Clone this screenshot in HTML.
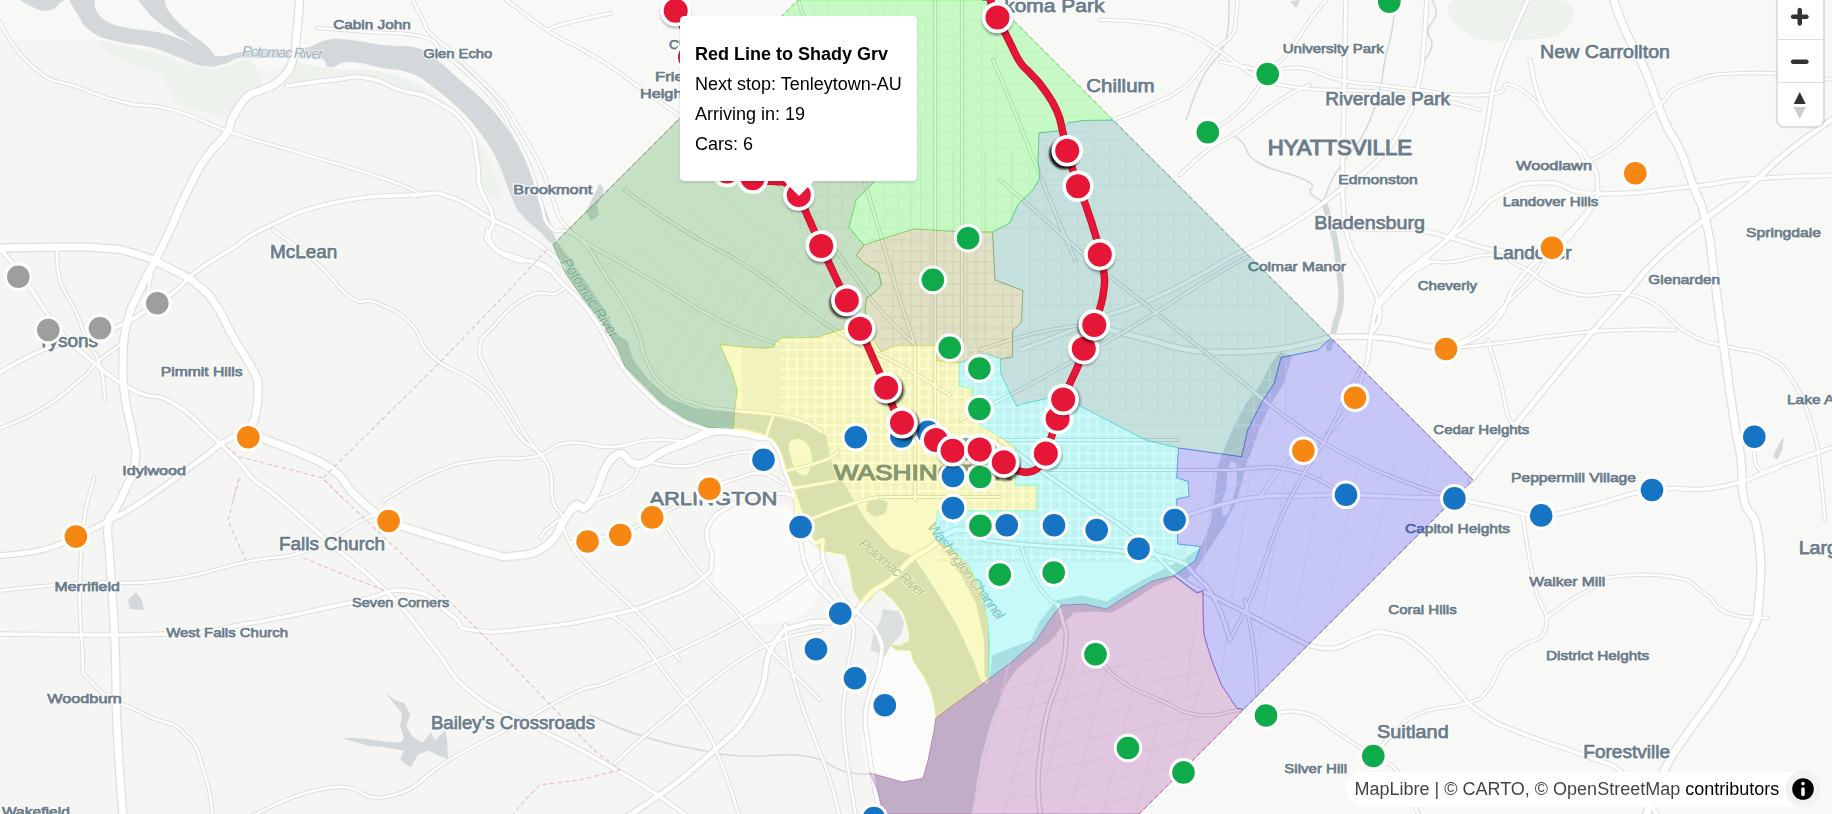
<!DOCTYPE html>
<html><head><meta charset="utf-8"><title>DC Metro Map</title>
<style>
html,body{margin:0;padding:0;background:#f8f8f6;}
body{width:1832px;height:814px;overflow:hidden;position:relative;font-family:"Liberation Sans",sans-serif;}
#map{position:absolute;left:0;top:0;width:1832px;height:814px;display:block}
.lh{font-family:"Liberation Sans",sans-serif;fill:#fff;stroke:#fff;stroke-width:3px;stroke-linejoin:round;stroke-opacity:.9}
.lf{font-family:"Liberation Sans",sans-serif;fill:#6b7d8b;stroke:#6b7d8b;stroke-width:.75px}
.popup{position:absolute;left:680px;top:16px;width:237px;height:165px;background:#fff;border-radius:4.5px;box-shadow:0 1.5px 3px rgba(0,0,0,.1);box-sizing:border-box;font-size:18px;line-height:30px;color:#000}
.popup div{position:absolute;left:15px;white-space:nowrap;opacity:.999}
.tip{position:absolute;left:784px;top:181px;width:0;height:0;border-left:15px solid transparent;border-right:15px solid transparent;border-top:15px solid #fff}
.ctrl{position:absolute;left:1778px;top:-5px;width:44.5px;height:131px;background:#fff;border-radius:6px;box-shadow:0 0 0 2.2px rgba(0,0,0,.1)}
.ctrl .b{position:absolute;left:0;width:44.5px;height:43.5px;box-sizing:border-box}
.ctrl .b+.b{border-top:1.5px solid #ddd}
.ctrl svg{position:absolute;left:0px;top:0;width:43.5px;height:43.5px}
.attr{position:absolute;left:1346px;top:771.5px;width:475px;height:35px;background:#fff;border-radius:18px;font-size:18px;line-height:36px;color:#000;white-space:nowrap}
.attr span.t{position:absolute;left:8.5px;top:-0.8px;color:rgba(0,0,0,.75);opacity:.999}
.attr span.t b{font-weight:normal;color:#000}
.attr .ib{position:absolute;right:0;top:-0.5px;width:36px;height:36px;border-radius:18px;background:rgba(0,0,0,.05)}
.attr .ib svg{width:36px;height:36px;display:block}
</style></head><body>

<svg id="map" width="1832" height="814" viewBox="0 0 1832 814">
<defs><clipPath id="dc"><path d="M760.0,38.0 L553.0,245.0 L565.8,273.8 L583.8,299.6 L604.5,325.4 L617.4,348.6 L625.0,366.7 L643.0,384.8 L661.2,402.8 L684.4,418.3 L707.7,427.3 L733.5,428.5 L734.7,410.6 L737.3,390.0 L731.0,369.3 L720.0,344.5 L746.0,347.2 L762.9,348.2 L774.0,347.3 L775.7,342.2 L782.5,337.8 L817.9,337.3 L825.8,334.4 L841.5,329.5 L845.4,329.5 L873.0,338.0 L868.9,325.6 L865.1,310.6 L866.4,298.0 L873.9,293.0 L881.5,285.4 L879.0,272.9 L864.0,263.0 L856.3,255.3 L864.0,245.0 L858.0,238.0 L849.0,227.0 L856.0,200.0 L876.0,180.0 L850.0,120.0 L800.0,62.0Z M798.0,0.0 L993.0,0.0 L1113.0,120.0 L1083.0,120.5 L1068.0,123.0 L1060.4,130.5 L1039.0,133.0 L1038.0,160.7 L1040.0,178.0 L1032.8,190.0 L1017.7,205.0 L1010.0,222.7 L992.6,232.0 L957.0,231.5 L914.0,229.0 L885.0,238.0 L864.0,245.0 L858.0,238.0 L849.0,227.0 L856.0,200.0 L876.0,180.0 L850.0,120.0 L800.0,62.0 L760.0,38.0Z M1113.0,120.0 L1331.0,338.0 L1317.7,350.0 L1281.0,357.5 L1274.3,383.3 L1261.0,403.3 L1247.7,430.0 L1241.5,456.7 L1178.5,448.0 L1146.0,440.3 L1080.8,406.4 L1062.0,393.0 L1050.7,397.7 L1022.0,404.0 L1016.8,406.4 L1012.4,398.3 L1000.5,372.6 L1000.6,359.0 L1012.4,357.0 L1012.7,330.6 L1021.5,322.0 L1022.8,290.5 L995.0,280.0 L992.6,232.0 L1010.0,222.7 L1017.7,205.0 L1032.8,190.0 L1040.0,178.0 L1038.0,160.7 L1039.0,133.0 L1060.4,130.5 L1068.0,123.0 L1083.0,120.5Z M864.0,245.0 L885.0,238.0 L914.0,229.0 L957.0,231.5 L992.6,232.0 L995.0,280.0 L1022.8,290.5 L1021.5,322.0 L1012.7,330.6 L1012.4,357.0 L1000.6,359.0 L985.0,353.0 L959.4,362.9 L936.8,361.0 L936.8,345.6 L894.5,345.6 L881.0,352.0 L873.0,338.0 L868.9,325.6 L865.1,310.6 L866.4,298.0 L873.9,293.0 L881.5,285.4 L879.0,272.9 L864.0,263.0 L856.3,255.3Z M873.0,338.0 L881.0,352.0 L894.5,345.6 L936.8,345.6 L936.8,361.0 L959.4,362.9 L959.4,386.5 L972.2,388.4 L972.2,410.0 L981.0,425.8 L1014.4,445.4 L1015.6,447.9 L1015.6,485.5 L1036.9,485.5 L1036.9,510.6 L937.7,510.6 L934.0,535.7 L935.7,540.0 L950.8,547.5 L968.4,565.0 L981.0,590.0 L988.5,622.9 L988.5,679.3 L935.7,718.3 L934.5,705.7 L930.7,690.6 L923.2,675.6 L913.0,660.5 L910.6,650.5 L896.0,650.0 L890.5,645.4 L900.6,645.4 L909.4,640.4 L908.0,628.0 L903.0,612.8 L893.0,600.0 L879.0,587.7 L875.5,590.0 L870.5,600.0 L860.4,601.5 L853.0,590.0 L850.4,572.6 L845.4,555.0 L820.0,550.0 L814.0,540.0 L811.0,533.2 L796.0,510.6 L793.6,490.6 L786.0,468.0 L778.5,445.4 L766.0,435.3 L733.5,428.5 L734.7,410.6 L737.3,390.0 L731.0,369.3 L720.0,344.5 L746.0,347.2 L762.9,348.2 L774.0,347.3 L775.7,342.2 L782.5,337.8 L817.9,337.3 L825.8,334.4 L841.5,329.5 L845.4,329.5Z M959.4,362.9 L985.0,353.0 L1000.6,359.0 L1000.5,372.6 L1012.4,398.3 L1016.8,406.4 L1022.0,404.0 L1050.7,397.7 L1062.0,393.0 L1080.8,406.4 L1146.0,440.3 L1178.5,448.0 L1176.6,477.7 L1187.9,481.4 L1189.0,496.5 L1176.6,499.0 L1177.8,544.0 L1200.4,546.7 L1195.4,560.5 L1174.0,575.6 L1151.7,581.4 L1124.0,597.7 L1106.5,609.0 L1083.9,604.0 L1061.3,605.3 L1051.2,617.8 L1036.2,640.4 L1013.6,660.5 L988.5,679.3 L988.5,622.9 L981.0,590.0 L968.4,565.0 L950.8,547.5 L935.7,540.0 L934.0,535.7 L937.7,510.6 L1036.9,510.6 L1036.9,485.5 L1015.6,485.5 L1015.6,447.9 L1014.4,445.4 L981.0,425.8 L972.2,410.0 L972.2,388.4 L959.4,386.5Z M1331.0,338.0 L1473.0,480.0 L1243.0,710.0 L1236.7,708.0 L1221.6,685.3 L1211.6,660.0 L1204.0,635.0 L1203.0,610.0 L1203.0,590.6 L1196.7,593.0 L1174.0,575.6 L1195.4,560.5 L1200.4,546.7 L1177.8,544.0 L1176.6,499.0 L1189.0,496.5 L1187.9,481.4 L1176.6,477.7 L1178.5,448.0 L1241.5,456.7 L1247.7,430.0 L1261.0,403.3 L1274.3,383.3 L1281.0,357.5 L1317.7,350.0Z M1174.0,575.6 L1196.7,593.0 L1203.0,590.6 L1203.0,610.0 L1204.0,635.0 L1211.6,660.0 L1221.6,685.3 L1236.7,708.0 L1243.0,710.0 L1139.0,814.0 L886.4,814.0 L881.4,805.8 L877.7,790.8 L870.0,773.0 L880.2,775.7 L902.8,782.0 L922.9,778.2 L927.9,760.6 L934.0,730.5 L935.7,718.3 L988.5,679.3 L1013.6,660.5 L1036.2,640.4 L1051.2,617.8 L1061.3,605.3 L1083.9,604.0 L1106.5,609.0 L1124.0,597.7 L1151.7,581.4Z"/></clipPath><clipPath id="core"><path d="M798.0,0.0 L993.0,0.0 L1113.0,120.0 L1083.0,120.5 L1068.0,123.0 L1060.4,130.5 L1039.0,133.0 L1038.0,160.7 L1040.0,178.0 L1032.8,190.0 L1017.7,205.0 L1010.0,222.7 L992.6,232.0 L957.0,231.5 L914.0,229.0 L885.0,238.0 L864.0,245.0 L858.0,238.0 L849.0,227.0 L856.0,200.0 L876.0,180.0 L850.0,120.0 L800.0,62.0 L760.0,38.0Z M864.0,245.0 L885.0,238.0 L914.0,229.0 L957.0,231.5 L992.6,232.0 L995.0,280.0 L1022.8,290.5 L1021.5,322.0 L1012.7,330.6 L1012.4,357.0 L1000.6,359.0 L985.0,353.0 L959.4,362.9 L936.8,361.0 L936.8,345.6 L894.5,345.6 L881.0,352.0 L873.0,338.0 L868.9,325.6 L865.1,310.6 L866.4,298.0 L873.9,293.0 L881.5,285.4 L879.0,272.9 L864.0,263.0 L856.3,255.3Z M873.0,338.0 L881.0,352.0 L894.5,345.6 L936.8,345.6 L936.8,361.0 L959.4,362.9 L959.4,386.5 L972.2,388.4 L972.2,410.0 L981.0,425.8 L1014.4,445.4 L1015.6,447.9 L1015.6,485.5 L1036.9,485.5 L1036.9,510.6 L937.7,510.6 L934.0,535.7 L935.7,540.0 L950.8,547.5 L968.4,565.0 L981.0,590.0 L988.5,622.9 L988.5,679.3 L935.7,718.3 L934.5,705.7 L930.7,690.6 L923.2,675.6 L913.0,660.5 L910.6,650.5 L896.0,650.0 L890.5,645.4 L900.6,645.4 L909.4,640.4 L908.0,628.0 L903.0,612.8 L893.0,600.0 L879.0,587.7 L875.5,590.0 L870.5,600.0 L860.4,601.5 L853.0,590.0 L850.4,572.6 L845.4,555.0 L820.0,550.0 L814.0,540.0 L811.0,533.2 L796.0,510.6 L793.6,490.6 L786.0,468.0 L778.5,445.4 L766.0,435.3 L733.5,428.5 L734.7,410.6 L737.3,390.0 L731.0,369.3 L720.0,344.5 L746.0,347.2 L762.9,348.2 L774.0,347.3 L775.7,342.2 L782.5,337.8 L817.9,337.3 L825.8,334.4 L841.5,329.5 L845.4,329.5Z M959.4,362.9 L985.0,353.0 L1000.6,359.0 L1000.5,372.6 L1012.4,398.3 L1016.8,406.4 L1022.0,404.0 L1050.7,397.7 L1062.0,393.0 L1080.8,406.4 L1146.0,440.3 L1178.5,448.0 L1176.6,477.7 L1187.9,481.4 L1189.0,496.5 L1176.6,499.0 L1177.8,544.0 L1200.4,546.7 L1195.4,560.5 L1174.0,575.6 L1151.7,581.4 L1124.0,597.7 L1106.5,609.0 L1083.9,604.0 L1061.3,605.3 L1051.2,617.8 L1036.2,640.4 L1013.6,660.5 L988.5,679.3 L988.5,622.9 L981.0,590.0 L968.4,565.0 L950.8,547.5 L935.7,540.0 L934.0,535.7 L937.7,510.6 L1036.9,510.6 L1036.9,485.5 L1015.6,485.5 L1015.6,447.9 L1014.4,445.4 L981.0,425.8 L972.2,410.0 L972.2,388.4 L959.4,386.5Z"/></clipPath><filter id="bl" x="-50%" y="-50%" width="200%" height="200%"><feGaussianBlur stdDeviation="1.3"/></filter></defs>
<rect width="1832" height="814" fill="#f8f8f6"/>
<path d="M0.0,40.0 L100.0,40.0 L213.0,66.0 L330.0,67.0 L433.0,87.0 L497.0,160.0 L551.0,243.0 L617.0,349.0 L661.0,403.0 L733.0,428.0 L786.0,468.0 L811.0,533.0 L853.0,590.0 L879.0,588.0 L909.0,640.0 L935.0,718.0 L923.0,778.0 L870.0,773.0 L886.0,814.0 L0.0,814.0Z" fill="#f5f5f3"/>
<path d="M718.0,512.0 C727.6,501.0 744.6,505.4 760.0,505.0 C775.4,504.6 784.6,503.0 795.0,510.0 C805.4,517.0 806.6,528.0 812.0,540.0 C817.4,552.0 821.4,558.0 822.0,570.0 C822.6,582.0 821.4,590.0 815.0,600.0 C808.6,610.0 803.0,615.6 790.0,620.0 C777.0,624.4 763.6,626.0 750.0,622.0 C736.4,618.0 729.6,612.4 722.0,600.0 C714.4,587.6 712.8,577.6 712.0,560.0 C711.2,542.4 708.4,523.0 718.0,512.0Z" fill="#fafaf8"/>
<path d="M890.0,646.0 L910.0,650.5 L913.0,660.5 L923.2,675.6 L930.7,690.6 L935.7,718.3 L934.0,730.5 L927.9,760.6 L922.9,778.2 L902.8,782.0 L880.2,775.7 L868.0,770.0 L862.0,745.0 L866.0,715.0 L872.0,685.0 L882.0,662.0Z" fill="#fbfbfa"/>
<g fill="#eef2ed"><path d="M100.0,42.0 C105.0,40.0 130.0,46.8 150.0,52.0 C170.0,57.2 184.4,65.2 200.0,68.0 C215.6,70.8 218.0,67.6 228.0,66.0 C238.0,64.4 243.2,55.2 250.0,60.0 C256.8,64.8 262.6,82.6 262.0,90.0 C261.4,97.4 252.8,91.6 247.0,97.0 C241.2,102.4 242.4,114.4 233.0,117.0 C223.6,119.6 211.6,113.4 200.0,110.0 C188.4,106.6 183.0,107.0 175.0,100.0 C167.0,93.0 170.0,82.6 160.0,75.0 C150.0,67.4 137.0,68.6 125.0,62.0 C113.0,55.4 95.0,44.0 100.0,42.0Z"/><path d="M287.0,62.0 C295.6,58.6 310.8,67.0 330.0,69.0 C349.2,71.0 363.0,67.4 383.0,72.0 C403.0,76.6 413.6,81.4 430.0,92.0 C446.4,102.6 453.4,111.4 465.0,125.0 C476.6,138.6 481.0,146.0 488.0,160.0 C495.0,174.0 501.2,189.0 500.0,195.0 C498.8,201.0 486.6,197.0 482.0,190.0 C477.4,183.0 480.0,172.6 477.0,160.0 C474.0,147.4 475.8,139.0 467.0,127.0 C458.2,115.0 446.4,107.4 433.0,100.0 C419.6,92.6 413.2,94.4 400.0,90.0 C386.8,85.6 380.4,80.0 367.0,78.0 C353.6,76.0 349.0,78.4 333.0,80.0 C317.0,81.6 296.2,89.6 287.0,86.0 C277.8,82.4 278.4,65.4 287.0,62.0Z"/><path d="M1455.0,0.0 C1473.0,-7.0 1538.0,-6.0 1560.0,0.0 C1582.0,6.0 1573.0,22.0 1565.0,30.0 C1557.0,38.0 1539.0,39.0 1520.0,40.0 C1501.0,41.0 1483.0,43.0 1470.0,35.0 C1457.0,27.0 1437.0,7.0 1455.0,0.0Z"/></g>
<path d="M883.0,609.0 L899.3,611.5 L904.4,622.9 L900.6,635.4 L890.5,645.4 L885.5,655.5 L870.5,650.5 L873.0,635.4 L880.5,620.3Z" fill="#dcdfdf"/>
<g fill="#d3d9db">
<path d="M70.0,-5.0 C66.7,-0.3 72.9,6.4 78.0,15.0 C83.1,23.6 82.7,25.7 92.0,32.0 C101.3,38.3 104.5,38.5 118.0,42.0 C131.5,45.5 136.0,43.5 150.0,47.0 C164.0,50.5 165.6,52.6 178.0,57.0 C190.4,61.4 192.3,64.4 203.0,66.0 C213.7,67.6 215.4,65.9 224.0,64.0 C232.6,62.1 230.0,59.4 240.0,58.0 C250.0,56.6 254.6,58.2 267.0,58.0 C279.4,57.8 280.6,57.0 293.0,57.0 C305.4,57.0 311.4,55.7 320.0,58.0 C328.6,60.3 323.0,66.1 330.0,67.0 C337.0,67.9 337.6,61.8 350.0,62.0 C362.4,62.2 369.0,65.4 383.0,68.0 C397.0,70.6 398.3,68.6 410.0,73.0 C421.7,77.4 421.3,78.4 433.0,87.0 C444.7,95.6 449.0,99.3 460.0,110.0 C471.0,120.7 471.4,121.3 480.0,133.0 C488.6,144.7 490.0,146.0 497.0,160.0 C504.0,174.0 504.6,180.6 510.0,193.0 C515.4,205.4 513.0,203.9 520.0,213.0 C527.0,222.1 532.8,225.0 540.0,232.0 C547.2,239.0 547.3,241.1 551.0,243.0 C554.7,244.9 555.5,242.3 556.0,240.0 C556.5,237.7 555.1,239.3 553.0,233.0 C550.9,226.7 551.7,225.4 547.0,213.0 C542.3,200.6 539.3,194.7 533.0,180.0 C526.7,165.3 527.0,163.3 520.0,150.0 C513.0,136.7 511.6,134.7 503.0,123.0 C494.4,111.3 493.0,110.0 483.0,100.0 C473.0,90.0 470.7,89.3 460.0,80.0 C449.3,70.7 447.0,67.5 437.0,60.0 C427.0,52.5 429.6,51.5 417.0,48.0 C404.4,44.5 398.6,46.9 383.0,45.0 C367.4,43.1 363.1,41.2 350.0,40.0 C336.9,38.8 338.7,37.7 327.0,40.0 C315.3,42.3 314.0,47.2 300.0,50.0 C286.0,52.8 280.5,51.5 267.0,52.0 C253.5,52.5 252.5,51.1 242.0,52.0 C231.5,52.9 230.4,55.8 222.0,56.0 C213.6,56.2 213.0,55.6 206.0,53.0 C199.0,50.4 199.9,49.0 192.0,45.0 C184.1,41.0 181.8,39.3 172.0,36.0 C162.2,32.7 160.3,32.9 150.0,31.0 C139.7,29.1 137.8,30.1 128.0,28.0 C118.2,25.9 115.5,26.2 108.0,22.0 C100.5,17.8 99.7,16.3 96.0,10.0 C92.3,3.7 98.1,-1.5 92.0,-5.0 C85.9,-8.5 73.3,-9.7 70.0,-5.0Z"/>
<path d="M138.0,-5.0 C134.7,-1.5 141.3,3.7 146.0,10.0 C150.7,16.3 151.9,16.9 158.0,22.0 C164.1,27.1 165.0,27.3 172.0,32.0 C179.0,36.7 180.5,37.3 188.0,42.0 C195.5,46.7 197.9,48.5 204.0,52.0 C210.1,55.5 213.1,58.2 214.0,57.0 C214.9,55.8 212.7,51.9 208.0,47.0 C203.3,42.1 200.5,41.4 194.0,36.0 C187.5,30.6 186.1,30.1 180.0,24.0 C173.9,17.9 172.7,16.8 168.0,10.0 C163.3,3.2 167.0,-1.5 160.0,-5.0 C153.0,-8.5 141.3,-8.5 138.0,-5.0Z"/>
<path d="M20.0,-5.0 C12.8,-2.0 28.0,4.5 35.0,8.0 C42.0,11.5 44.2,11.2 50.0,10.0 C55.8,8.8 56.3,6.5 60.0,3.0 C63.7,-0.5 75.3,-3.1 66.0,-5.0 C56.7,-6.9 27.2,-8.0 20.0,-5.0Z"/>
<path d="M384.9,692.6 L393.9,699.5 L404.2,703.6 L410.3,713.9 L406.2,726.2 L412.4,736.5 L422.7,742.6 L430.9,732.4 L435.0,740.6 L445.2,730.3 L447.3,742.6 L448.1,759.0 L439.1,755.7 L428.8,750.8 L418.5,754.1 L410.3,767.2 L404.2,763.1 L400.1,759.0 L404.2,750.8 L393.9,748.8 L381.6,746.7 L369.3,745.9 L357.0,742.6 L342.6,738.5 L352.9,737.7 L369.3,739.3 L385.7,741.8 L400.1,742.6 L404.2,738.5 L400.1,726.2 L402.1,713.9 L396.0,705.7Z"/>
<path d="M600.0,183.0 L604.0,190.0 L600.0,200.0 L597.0,205.0 L599.0,215.0 L591.0,221.0 L586.0,212.0 L590.0,203.0 L594.0,195.0Z"/>
<path d="M128.0,600.0 L136.0,592.0 L142.0,600.0 L144.0,610.0 L130.0,609.0Z"/>
<path d="M1781.0,440.0 L1784.0,438.0 L1782.0,450.0 L1777.0,460.0 L1773.0,456.0 L1777.0,448.0Z"/>
<path d="M1290.0,1.0 L1296.0,8.0 L1300.0,0.0Z"/>
<g clip-path="url(#dc)">
<path d="M548.0,240.0 L558.0,243.0 L572.0,262.0 L590.0,288.0 L606.0,312.0 L614.8,333.0 L627.7,341.0 L632.9,359.0 L648.3,379.6 L669.0,397.7 L694.8,408.0 L720.6,410.6 L733.5,412.0 L773.5,416.5 L811.0,425.3 L826.2,435.3 L831.2,460.4 L841.3,478.0 L851.3,495.6 L866.4,520.7 L891.5,548.3 L905.0,553.0 L913.0,556.0 L935.7,590.0 L955.8,622.9 L973.4,660.5 L981.0,680.6 L986.0,684.0 L986.0,700.0 L960.0,760.0 L960.0,830.0 L700.0,830.0 L500.0,400.0 L520.0,240.0Z"/>
<path d="M933.0,545.0 L940.0,548.0 L960.8,575.0 L976.0,603.0 L984.0,640.0 L984.5,676.0 L989.0,681.0 L990.0,640.0 L984.0,600.0 L970.0,568.0 L952.0,548.0 L940.0,540.0Z"/>
<path d="M989.0,682.0 L992.2,655.5 L1011.0,648.0 L1031.0,640.4 L1038.7,622.9 L1056.2,600.3 L1081.4,595.2 L1106.5,601.5 L1124.0,590.2 L1151.7,575.0 L1171.7,565.0 L1185.0,558.0 L1200.4,548.0 L1210.5,522.9 L1215.5,490.2 L1218.0,465.0 L1223.0,452.6 L1232.0,430.0 L1245.0,405.0 L1260.0,385.0 L1270.0,365.0 L1280.0,352.0 L1292.0,356.0 L1284.0,383.0 L1270.0,406.0 L1258.0,432.0 L1250.0,456.0 L1248.0,458.0 L1243.0,477.7 L1235.6,502.8 L1223.0,527.9 L1208.0,550.5 L1195.4,570.6 L1185.4,580.6 L1176.8,577.0 L1154.0,586.4 L1129.0,602.8 L1111.5,612.8 L1094.0,611.6 L1073.8,612.8 L1063.8,622.9 L1053.7,638.0 L1035.8,652.7 L1015.7,670.0 L1005.7,685.3 L990.6,723.0 L980.6,760.6 L970.6,820.0 L880.0,820.0 L880.0,760.0 L940.0,715.0Z"/>
<path d="M868.0,500.0 L880.0,496.0 L888.0,503.0 L885.0,514.0 L874.0,517.0 L866.0,510.0Z"/>
<path d="M789.0,443.0 C790.3,439.8 795.7,438.5 799.0,439.0 C802.3,439.5 806.8,442.2 809.0,446.0 C811.2,449.8 812.5,457.2 812.0,462.0 C811.5,466.8 808.5,473.3 806.0,475.0 C803.5,476.7 799.5,474.8 797.0,472.0 C794.5,469.2 792.3,462.8 791.0,458.0 C789.7,453.2 787.7,446.2 789.0,443.0Z" fill="#f8f8f6"/>
<path d="M1228.0,470.0 C1230.3,461.3 1230.0,460.3 1233.0,462.0 C1236.0,463.7 1237.0,463.0 1237.0,475.0 C1237.0,487.0 1236.7,484.7 1233.0,498.0 C1229.3,511.3 1229.7,512.7 1226.0,515.0 C1222.3,517.3 1222.0,514.0 1222.0,505.0 C1222.0,496.0 1224.0,499.7 1226.0,488.0 C1228.0,476.3 1225.7,478.7 1228.0,470.0Z" fill="#f8f8f6"/>
</g></g>
<g fill="none" stroke="#d3d9db" stroke-width="1.5" stroke-linecap="round"><path d="M590.0,715.0 C603.9,720.6 612.7,726.7 642.0,736.0 C671.3,745.3 672.9,744.7 700.0,750.0 C727.1,755.3 715.7,754.4 743.6,756.0 C771.5,757.6 777.6,751.9 804.6,756.0 C831.6,760.1 826.0,766.7 845.0,771.5 C864.0,776.3 867.7,773.3 876.0,774.0"/><path d="M1323.6,202.0 C1320.2,199.7 1315.3,199.2 1310.7,193.5 C1306.1,187.8 1320.2,188.7 1306.4,180.6 C1292.6,172.5 1276.2,173.3 1259.0,163.0 C1241.8,152.7 1249.6,149.4 1241.9,141.9 C1234.2,134.4 1233.2,136.8 1230.0,135.0"/><path d="M1186.0,120.0 C1190.5,108.5 1192.7,97.5 1203.0,77.0 C1213.3,56.5 1217.8,64.1 1224.7,43.0 C1231.6,21.9 1227.9,10.0 1229.0,-2.0"/><path d="M1323.6,202.0 C1325.8,196.1 1326.3,191.2 1332.0,180.0 C1337.7,168.8 1337.5,170.7 1345.0,160.0 C1352.5,149.3 1352.8,152.0 1360.0,140.0 C1367.2,128.0 1366.7,128.3 1372.0,115.0 C1377.3,101.7 1376.5,104.7 1380.0,90.0 C1383.5,75.3 1381.8,76.0 1385.0,60.0 C1388.2,44.0 1389.1,46.5 1392.0,30.0 C1394.9,13.5 1394.9,6.5 1396.0,-2.0"/><path d="M1432.0,0.0 C1433.1,4.0 1437.1,7.0 1436.0,15.0 C1434.9,23.0 1429.1,22.0 1428.0,30.0 C1426.9,38.0 1432.8,37.0 1432.0,45.0 C1431.2,53.0 1426.9,56.0 1425.0,60.0"/></g>
<g fill="none" stroke-width="1">
<clipPath id="cp2"><path d="M742,346 L775,340 L850,330 L875,340 L882,352 L895,346 L1186,346 L1186,562 L936,562 L936,500 L860,500 L851,495 L841,478 L831,460 L826,435 L811,425 L773,416 L742,412 Z"/></clipPath>
<g clip-path="url(#core)"><g clip-path="url(#cp2)"><rect x="730" y="320" width="460" height="250" fill="#efefed"/><path d="M787.4,330 V560 M796.8,330 V560 M806.2,330 V560 M815.6,330 V560 M825.0,330 V560 M834.4,330 V560 M843.8,330 V560 M853.2,330 V560 M862.6,330 V560 M872.0,330 V560 M881.4,330 V560 M890.8,330 V560 M900.2,330 V560 M909.6,330 V560 M919.0,330 V560 M928.4,330 V560 M937.8,330 V560 M947.2,330 V560 M956.6,330 V560 M966.0,330 V560 M975.4,330 V560 M984.8,330 V560 M994.2,330 V560 M1003.6,330 V560 M1013.0,330 V560 M1022.4,330 V560 M1031.8,330 V560 M1041.2,330 V560 M1050.6,330 V560 M1060.0,330 V560 M1069.4,330 V560 M1078.8,330 V560 M1088.2,330 V560 M1097.6,330 V560 M1107.0,330 V560 M1116.4,330 V560 M1125.8,330 V560 M1135.2,330 V560 M1144.6,330 V560 M1154.0,330 V560 M1163.4,330 V560 M1172.8,330 V560 M780,331.2 H1180 M780,340.6 H1180 M780,350.0 H1180 M780,359.4 H1180 M780,368.8 H1180 M780,378.2 H1180 M780,387.6 H1180 M780,397.0 H1180 M780,406.4 H1180 M780,415.8 H1180 M780,425.2 H1180 M780,434.6 H1180 M780,444.0 H1180 M780,453.4 H1180 M780,462.8 H1180 M780,472.2 H1180 M780,481.6 H1180 M780,491.0 H1180 M780,500.4 H1180 M780,509.8 H1180 M780,519.2 H1180 M780,528.6 H1180 M780,538.0 H1180 M780,547.4 H1180 M780,556.8 H1180" stroke="#fcfcfb" stroke-width="2.2"/></g><path d="M893,250 V346 M902,240 V346 M911,190 V346 M921,120 V346 M930,232 V346 M944,232 V346 M953,150 V346 M967,232 V346 M976,250 V346 M985,150 V346 M1003,232 V346 M1012,150 V346 M868,240 H1020 M868,251 H1020 M868,262 H1020 M868,273 H1020 M868,284 H1020 M880,295 H1020 M880,306 H1020 M880,317 H1020 M880,328 H1020 M880,339 H1020" stroke="#e4e4e2"/></g>
<path clip-path="url(#dc)" d="M800,6 V230 M814,1 V230 M828,2 V230 M842,13 V230 M856,13 V230 M870,2 V230 M884,7 V230 M898,2 V230 M912,17 V230 M926,13 V230 M940,1 V230 M954,26 V230 M968,18 V230 M982,3 V230 M996,30 V230 M800,20 H1020 M800,36 H1036 M800,52 H1052 M800,68 H1068 M800,84 H1084 M800,100 H1090 M800,116 H1090 M800,132 H1090 M800,148 H1090 M800,164 H1090 M800,180 H1090 M800,196 H1090 M800,212 H1090 M800,228 H1090 M1030,138 V395 M1046,145 V397 M1062,145 V400 M1078,144 V403 M1094,135 V405 M1110,144 V408 M1126,145 V411 M1142,158 V413 M1158,168 V416 M1174,187 V419 M1190,200 V421 M1206,224 V424 M1222,234 V427 M1238,252 V429 M1254,270 V432 M1270,282 V435 M1286,304 V437 M1030,140 H1125 M1030,155 H1140 M1030,170 H1155 M1030,185 H1170 M1030,200 H1185 M1030,215 H1200 M1030,230 H1215 M1030,245 H1230 M1030,260 H1245 M1030,275 H1260 M1030,290 H1270 M1030,305 H1270 M1030,320 H1270 M1030,335 H1270 M1030,350 H1270 M1030,365 H1270 M1030,380 H1270 M1030,395 H1270 M1030,410 H1270 M1030,425 H1270 M1200,470 l200,-110 M1210,500 l193,-106 M1220,531 l186,-103 M1230,561 l179,-99 M1240,592 l172,-96 M1251,623 l166,-93 M1261,653 l159,-89 M1271,684 l152,-86 M1215,470 l-30,230 M1251,468 l-30,208 M1287,466 l-30,186 M1323,464 l-30,165 M1359,462 l-30,143 M1395,461 l-30,122 M1431,459 l-30,100 M1010,660 l-40,160 M1000,690 l200,-40 M1042,663 l-40,160 M1000,712 l200,-40 M1074,666 l-40,160 M1000,734 l200,-40 M1106,669 l-40,160 M1000,757 l200,-40 M1138,672 l-40,160 M1000,779 l200,-40 M1170,676 l-40,160 M1000,802 l200,-40 M1202,679 l-40,160 M1000,824 l200,-40 M600,260 l140,120 M640,400 l90,-150 M630,243 l140,120 M667,392 l90,-150 M660,227 l140,120 M694,385 l90,-150 M690,210 l140,120 M721,377 l90,-150 M720,194 l140,120 M748,370 l90,-150 M750,177 l140,120 M775,362 l90,-150 M780,161 l140,120 M802,355 l90,-150 M810,144 l140,120 M829,347 l90,-150 M840,128 l140,120 M856,340 l90,-150" stroke="#eeeeec"/></g>
<path d="M1329.0,348.0 C1330.9,341.1 1332.8,334.8 1336.0,322.0 C1339.2,309.2 1340.2,313.9 1341.0,300.0 C1341.8,286.1 1340.6,286.0 1339.0,270.0 C1337.4,254.0 1337.9,254.7 1335.0,240.0 C1332.1,225.3 1331.0,225.1 1328.0,215.0 C1325.0,204.9 1324.8,205.5 1323.6,202.0" fill="none" stroke="#d3d9db" stroke-width="6" stroke-linecap="round"/>
<g fill="none" stroke-linecap="round" stroke-linejoin="round">
<g stroke="#dfdfdd" stroke-width="4.4"><path d="M-5.0,15.0 C5.1,28.9 10.3,47.5 33.0,67.0 C55.7,86.5 54.9,78.4 80.0,88.0 C105.1,97.6 102.2,97.1 127.0,103.0 C151.8,108.9 144.7,102.0 173.0,110.0 C201.3,118.0 199.1,121.5 233.0,133.0 C266.9,144.5 264.3,142.3 300.0,153.0 C335.7,163.7 336.9,163.1 367.0,173.0 C397.1,182.9 400.2,183.6 413.0,190.0 C425.8,196.4 414.5,195.1 415.0,197.0"/><path d="M317.0,28.0 C331.1,29.1 341.7,29.6 370.0,32.0 C398.3,34.4 403.5,31.4 423.0,37.0 C442.5,42.6 431.3,43.4 443.0,53.0 C454.7,62.6 453.7,60.5 467.0,73.0 C480.3,85.5 480.7,84.0 493.0,100.0 C505.3,116.0 503.1,115.1 513.0,133.0 C522.9,150.9 522.8,149.1 530.0,167.0 C537.2,184.9 534.7,184.0 540.0,200.0 C545.3,216.0 542.5,218.5 550.0,227.0 C557.5,235.5 558.4,227.1 568.0,232.0 C577.6,236.9 576.3,234.4 586.0,245.5 C595.7,256.6 594.1,258.0 604.5,273.8 C614.9,289.6 616.1,289.0 625.0,304.8 C633.9,320.6 631.9,317.2 638.0,333.0 C644.1,348.8 639.7,348.8 648.0,364.0 C656.3,379.2 655.1,379.1 669.0,390.0 C682.9,400.9 682.8,399.5 700.0,405.0 C717.2,410.5 714.8,408.2 733.5,410.6 C752.2,413.0 752.3,411.5 770.0,414.0 C787.7,416.5 786.1,415.2 800.0,420.0 C813.9,424.8 816.1,428.8 822.0,432.0"/><path d="M410.0,-5.0 C413.5,1.7 417.7,9.9 423.0,20.0 C428.3,30.1 422.8,25.0 430.0,33.0 C437.2,41.0 440.1,40.9 450.0,50.0 C459.9,59.1 453.7,53.7 467.0,67.0 C480.3,80.3 485.9,83.2 500.0,100.0 C514.1,116.8 509.3,112.7 520.0,130.0 C530.7,147.3 531.2,146.3 540.0,165.0 C548.8,183.7 546.3,184.0 553.0,200.0 C559.7,216.0 555.1,213.0 565.0,225.0 C574.9,237.0 575.3,235.1 590.0,245.0 C604.7,254.9 601.3,251.3 620.0,262.0 C638.7,272.7 638.7,272.2 660.0,285.0 C681.3,297.8 678.7,298.0 700.0,310.0 C721.3,322.0 718.7,320.7 740.0,330.0 C761.3,339.3 769.3,341.0 780.0,345.0"/><path d="M273.0,230.0 C284.7,238.8 296.5,245.1 317.0,263.0 C337.5,280.9 334.0,286.3 350.0,297.0 C366.0,307.7 361.0,296.1 377.0,303.0 C393.0,309.9 395.1,308.6 410.0,323.0 C424.9,337.4 415.1,341.0 433.0,357.0 C450.9,373.0 459.1,369.7 477.0,383.0 C494.9,396.3 488.5,392.6 500.0,407.0 C511.5,421.4 507.5,422.1 520.0,437.0 C532.5,451.9 538.2,445.9 547.0,463.0 C555.8,480.1 549.0,487.0 553.0,501.0 C557.0,515.0 558.3,505.7 562.0,515.5 C565.7,525.3 559.8,523.9 567.0,537.6 C574.2,551.3 574.6,551.3 589.0,567.0 C603.4,582.7 604.7,581.1 621.0,596.6 C637.3,612.1 634.3,608.1 650.0,625.0 C665.7,641.9 672.0,650.7 680.0,660.0"/><path d="M-5.0,591.0 C18.2,588.9 36.9,585.8 82.0,583.0 C127.1,580.2 120.3,586.1 164.0,580.5 C207.7,574.9 207.6,570.1 246.0,562.0 C284.4,553.9 275.2,562.0 308.0,550.0 C340.8,538.0 347.7,524.7 369.0,517.0 C390.3,509.3 382.9,519.9 388.0,521.0"/><path d="M246.0,818.0 C267.9,810.0 289.6,793.9 328.0,788.0 C366.4,782.1 357.2,803.7 390.0,796.0 C422.8,788.3 418.2,777.7 451.0,759.0 C483.8,740.3 480.1,743.6 513.0,726.0 C545.9,708.4 548.4,705.0 574.5,693.0 C600.6,681.0 582.9,692.5 611.0,681.0 C639.1,669.5 645.6,666.3 680.0,650.0 C714.4,633.7 710.7,636.0 740.0,620.0 C769.3,604.0 768.1,604.7 790.0,590.0 C811.9,575.3 813.5,571.7 822.0,565.0"/><path d="M94.0,478.0 C90.8,494.9 85.2,497.2 82.0,541.5 C78.8,585.8 78.8,605.7 82.0,644.0 C85.2,682.3 77.5,666.3 94.0,685.0 C110.5,703.7 119.7,700.9 144.0,714.0 C168.3,727.1 168.7,717.6 185.0,734.0 C201.3,750.4 197.5,753.1 205.0,775.5 C212.5,797.9 210.9,806.7 213.0,818.0"/><path d="M383.0,501.0 C396.3,493.5 406.3,483.9 433.0,473.0 C459.7,462.1 456.3,464.3 483.0,460.0 C509.7,455.7 510.6,461.5 533.0,457.0 C555.4,452.5 546.2,445.7 567.0,443.0 C587.8,440.3 588.9,447.8 611.0,447.0 C633.1,446.2 629.6,441.4 650.0,440.0 C670.4,438.6 677.5,441.3 687.5,441.8"/><path d="M500.0,-5.0 C512.5,4.3 524.9,15.3 547.0,30.0 C569.1,44.7 565.9,40.1 583.0,50.0 C600.1,59.9 593.1,55.0 611.0,67.0 C628.9,79.0 626.3,78.2 650.0,95.0 C673.7,111.8 686.7,120.7 700.0,130.0"/><path d="M611.0,13.0 C599.3,15.7 584.1,18.5 567.0,23.0 C549.9,27.5 552.3,28.1 547.0,30.0"/><path d="M487.0,230.0 C488.6,234.5 480.7,238.2 493.0,247.0 C505.3,255.8 515.1,254.2 533.0,263.0 C550.9,271.8 553.6,272.0 560.0,280.0 C566.4,288.0 565.8,288.5 557.0,293.0 C548.2,297.5 544.1,287.9 527.0,297.0 C509.9,306.1 505.5,313.7 493.0,327.0 C480.5,340.3 481.6,335.5 480.0,347.0 C478.4,358.5 479.8,355.1 487.0,370.0 C494.2,384.9 496.3,385.1 507.0,403.0 C517.7,420.9 516.3,421.0 527.0,437.0 C537.7,453.0 541.7,456.1 547.0,463.0"/><path d="M540.0,537.6 C543.9,533.7 541.6,532.1 554.7,522.9 C567.8,513.7 570.0,512.8 589.0,503.0 C608.0,493.2 611.6,497.1 626.0,486.0 C640.4,474.9 634.5,467.3 643.0,461.4 C651.5,455.5 646.1,462.8 658.0,464.0 C669.9,465.2 673.1,467.3 687.5,466.0 C701.9,464.7 695.6,462.8 712.0,459.0 C728.4,455.2 734.6,452.3 749.0,451.6 C763.4,450.9 761.5,455.2 766.0,456.5"/><path d="M572.0,542.5 C585.1,539.9 600.0,539.2 621.0,532.7 C642.0,526.2 635.5,525.2 650.6,518.0 C665.7,510.8 661.9,513.6 677.6,505.7 C693.3,497.8 693.9,495.7 709.6,488.5 C725.3,481.3 722.9,482.5 736.6,478.6 C750.3,474.7 748.6,472.4 761.0,473.7 C773.4,475.0 777.1,481.0 783.0,483.6"/><path d="M667.8,527.8 C673.1,535.7 675.7,541.6 687.5,557.3 C699.3,573.0 699.3,572.7 712.0,586.8 C724.7,600.9 722.2,595.8 735.0,610.0 C747.8,624.2 745.3,624.0 760.0,640.0 C774.7,656.0 774.0,654.0 790.0,670.0 C806.0,686.0 812.0,692.0 820.0,700.0"/><path d="M-5.0,430.0 C7.0,424.7 17.3,423.3 40.0,410.0 C62.7,396.7 64.0,393.3 80.0,380.0 C96.0,366.7 87.5,370.7 100.0,360.0 C112.5,349.3 119.8,345.3 127.0,340.0"/><path d="M57.0,247.0 C57.8,255.8 55.2,263.2 60.0,280.0 C64.8,296.8 67.8,294.0 75.0,310.0 C82.2,326.0 80.3,325.3 87.0,340.0 C93.7,354.7 95.2,349.0 100.0,365.0 C104.8,381.0 103.7,390.7 105.0,400.0"/><path d="M160.0,247.0 C157.3,255.8 153.5,263.2 150.0,280.0 C146.5,296.8 147.8,302.0 147.0,310.0"/><path d="M611.0,767.0 C618.7,759.8 624.3,753.9 640.0,740.0 C655.7,726.1 654.0,728.3 670.0,715.0 C686.0,701.7 681.3,704.7 700.0,690.0 C718.7,675.3 718.7,673.3 740.0,660.0 C761.3,646.7 758.1,648.0 780.0,640.0 C801.9,632.0 810.8,632.7 822.0,630.0"/><path d="M611.0,615.0 C618.7,621.7 624.3,622.7 640.0,640.0 C655.7,657.3 654.0,658.7 670.0,680.0 C686.0,701.3 686.7,698.7 700.0,720.0 C713.3,741.3 709.3,733.9 720.0,760.0 C730.7,786.1 734.7,802.5 740.0,818.0"/><path d="M766.0,437.0 L773.5,414.7"/><path d="M785.8,471.0 C795.6,468.3 808.7,466.1 822.6,461.0 C836.5,455.9 833.9,454.4 838.0,452.0"/><path d="M793.0,488.5 L835.0,481.0"/><path d="M812.8,518.0 C823.9,514.0 836.7,508.6 854.6,503.0 C872.5,497.4 873.2,498.6 880.0,497.0"/><path d="M853.0,625.0 C853.0,629.0 854.3,629.2 853.0,640.0 C851.7,650.8 850.1,652.0 848.0,665.5 C845.9,679.0 846.3,677.2 845.0,690.6 C843.7,704.0 843.0,701.5 843.0,715.7 C843.0,729.9 843.1,726.9 845.0,744.0 C846.9,761.1 847.1,760.3 850.0,780.0 C852.9,799.7 854.4,807.9 856.0,818.0"/><path d="M785.0,625.0 C786.3,634.3 786.0,640.0 790.0,660.0 C794.0,680.0 793.3,678.7 800.0,700.0 C806.7,721.3 807.0,718.7 815.0,740.0 C823.0,761.3 823.3,759.2 830.0,780.0 C836.7,800.8 837.3,807.9 840.0,818.0"/><path d="M1446.4,348.6 C1460.7,347.1 1469.7,346.6 1500.0,343.0 C1530.3,339.4 1528.0,338.5 1560.0,335.0 C1592.0,331.5 1589.3,331.3 1620.0,330.0 C1650.7,328.7 1660.3,330.0 1675.0,330.0"/><path d="M1421.0,260.0 C1428.7,260.5 1431.1,263.3 1450.0,262.0 C1468.9,260.7 1473.1,253.7 1492.0,255.0 C1510.9,256.3 1499.9,256.6 1521.0,266.7 C1542.1,276.8 1539.9,285.0 1571.0,293.0 C1602.1,301.0 1606.6,286.0 1637.7,296.7 C1668.8,307.4 1663.7,319.7 1687.7,333.0 C1711.7,346.3 1706.4,340.4 1727.7,346.7 C1749.0,353.0 1750.0,347.0 1767.7,356.7 C1785.4,366.4 1781.7,362.7 1794.0,383.0 C1806.3,403.3 1807.1,409.8 1814.0,433.0 C1820.9,456.2 1817.1,446.8 1820.0,470.0 C1822.9,493.2 1823.7,506.7 1825.0,520.0"/><path d="M1266.0,715.5 C1276.1,714.8 1284.9,708.3 1304.0,713.0 C1323.1,717.7 1319.2,721.5 1337.7,733.0 C1356.2,744.5 1356.7,744.8 1373.3,756.0 C1389.9,767.2 1387.5,758.5 1400.0,775.0 C1412.5,791.5 1414.7,806.5 1420.0,818.0"/><path d="M1522.7,516.7 C1525.7,534.4 1527.8,553.7 1534.0,583.0 C1540.2,612.3 1549.5,609.7 1546.0,626.7 C1542.5,643.7 1532.2,637.8 1521.0,646.7 C1509.8,655.6 1512.9,648.5 1504.0,660.0 C1495.1,671.5 1497.4,678.5 1487.7,690.0 C1478.0,701.5 1485.5,696.9 1467.7,703.0 C1449.9,709.1 1440.7,705.0 1421.0,713.0 C1401.3,721.0 1406.7,721.5 1394.0,733.0 C1381.3,744.5 1378.8,749.9 1373.3,756.0"/><path d="M1547.7,616.7 C1553.9,612.2 1558.7,608.0 1571.0,600.0 C1583.3,592.0 1585.2,592.6 1594.0,586.7 C1602.8,580.8 1583.5,580.7 1604.0,578.0 C1624.5,575.3 1644.3,572.7 1671.0,576.7 C1697.7,580.7 1688.9,583.3 1704.0,593.0 C1719.1,602.7 1710.7,606.3 1727.7,613.0 C1744.7,619.7 1757.0,616.7 1767.7,618.0"/><path d="M1267.7,74.0 C1276.3,72.4 1280.7,66.4 1300.0,68.0 C1319.3,69.6 1318.7,75.5 1340.0,80.0 C1361.3,84.5 1358.7,82.3 1380.0,85.0 C1401.3,87.7 1398.7,87.3 1420.0,90.0 C1441.3,92.7 1439.5,94.2 1460.0,95.0 C1480.5,95.8 1483.4,95.7 1497.0,93.0 C1510.6,90.3 1499.3,81.3 1511.0,85.0 C1522.7,88.7 1524.2,90.5 1541.0,107.0 C1557.8,123.5 1558.9,133.7 1574.0,147.0 C1589.1,160.3 1576.4,166.9 1597.7,157.0 C1619.0,147.1 1630.0,129.7 1654.0,110.0 C1678.0,90.3 1661.0,92.9 1687.7,83.0 C1714.4,73.1 1714.2,73.8 1754.0,73.0 C1793.8,72.2 1814.9,78.1 1837.0,80.0"/><path d="M1221.0,62.0 C1228.7,63.6 1237.5,64.8 1250.0,68.0 C1262.5,71.2 1263.0,72.4 1267.7,74.0"/><path d="M1100.0,20.0 C1110.7,20.5 1118.7,19.3 1140.0,22.0 C1161.3,24.7 1161.3,23.9 1180.0,30.0 C1198.7,36.1 1196.1,37.0 1210.0,45.0 C1223.9,53.0 1218.7,51.2 1232.0,60.0 C1245.3,68.8 1241.9,70.5 1260.0,78.0 C1278.1,85.5 1277.3,84.8 1300.0,88.0 C1322.7,91.2 1321.0,88.7 1345.0,90.0 C1369.0,91.3 1364.7,90.3 1390.0,93.0 C1415.3,95.7 1416.0,95.5 1440.0,100.0 C1464.0,104.5 1469.3,107.3 1480.0,110.0"/><path d="M1207.8,132.3 C1216.4,126.4 1224.0,125.5 1240.0,110.0 C1256.0,94.5 1254.4,90.0 1267.7,74.0 C1281.0,58.0 1278.7,64.4 1290.0,50.0 C1301.3,35.6 1299.3,34.7 1310.0,20.0 C1320.7,5.3 1324.7,1.7 1330.0,-5.0"/><path d="M1113.0,120.0 C1122.9,116.0 1132.1,113.0 1150.0,105.0 C1167.9,97.0 1166.7,99.3 1180.0,90.0 C1193.3,80.7 1190.7,80.7 1200.0,70.0 C1209.3,59.3 1206.5,59.3 1215.0,50.0 C1223.5,40.7 1226.4,44.3 1232.0,35.0 C1237.6,25.7 1234.4,25.7 1236.0,15.0 C1237.6,4.3 1237.5,0.3 1238.0,-5.0"/><path d="M1180.0,175.0 C1187.4,168.3 1191.8,162.0 1207.8,150.0 C1223.8,138.0 1220.7,143.3 1240.0,130.0 C1259.3,116.7 1261.3,112.0 1280.0,100.0 C1298.7,88.0 1302.0,89.0 1310.0,85.0"/><path d="M1340.8,228.0 C1351.3,228.5 1357.1,228.9 1380.0,230.0 C1402.9,231.1 1398.2,226.9 1426.7,232.0 C1455.2,237.1 1459.5,243.2 1487.0,249.0 C1514.5,254.8 1512.7,254.0 1530.0,253.7 C1547.3,253.4 1546.1,249.5 1552.0,248.0"/><path d="M1552.0,247.7 C1559.5,241.6 1567.2,239.9 1580.0,225.0 C1592.8,210.1 1594.7,200.8 1600.0,192.0"/><path d="M1425.0,230.0 C1434.3,232.7 1440.0,234.7 1460.0,240.0 C1480.0,245.3 1475.5,247.9 1500.0,250.0 C1524.5,252.1 1530.7,254.4 1552.0,247.7 C1573.3,241.0 1572.5,231.1 1580.0,225.0"/><path d="M1446.0,349.0 C1455.1,343.9 1462.9,343.1 1480.0,330.0 C1497.1,316.9 1495.3,314.7 1510.0,300.0 C1524.7,285.3 1523.8,288.9 1535.0,275.0 C1546.2,261.1 1547.5,255.0 1552.0,247.7"/><path d="M1355.0,397.7 C1351.0,403.6 1349.3,408.7 1340.0,420.0 C1330.7,431.3 1329.8,431.8 1320.0,440.0 C1310.2,448.2 1314.1,442.7 1303.4,450.7 C1292.7,458.7 1291.6,457.7 1280.0,470.0 C1268.4,482.3 1265.3,489.8 1260.0,497.0"/><path d="M1355.0,397.7 L1367.7,360.0"/><path d="M1487.7,340.0 C1491.0,350.7 1494.1,358.7 1500.0,380.0 C1505.9,401.3 1504.4,410.2 1510.0,420.0 C1515.6,429.8 1518.1,417.6 1521.0,416.7"/><path d="M1754.3,436.7 C1755.8,445.6 1751.1,463.0 1760.0,470.0 C1768.9,477.0 1780.3,464.9 1787.7,463.0"/></g>
<g stroke="#dfdfdd" stroke-width="5.4"><path d="M-5.0,244.0 C1.7,251.7 3.5,250.9 20.0,273.0 C36.5,295.1 39.1,304.6 57.0,327.0 C74.9,349.4 66.7,340.2 87.0,357.0 C107.3,373.8 110.1,377.7 133.0,390.0 C155.9,402.3 151.7,390.5 173.0,403.0 C194.3,415.5 195.1,421.0 213.0,437.0 C230.9,453.0 229.1,451.5 240.0,463.0 C250.9,474.5 244.1,470.9 254.0,480.0 C263.9,489.1 257.3,480.6 277.0,497.0 C296.7,513.4 297.9,515.4 328.0,541.5 C358.1,567.6 362.5,567.7 390.0,595.0 C417.5,622.3 409.1,617.9 431.0,644.0 C452.9,670.1 444.8,671.1 472.0,693.0 C499.2,714.9 505.7,711.7 533.0,726.0 C560.3,740.3 553.7,735.8 574.5,746.7 C595.3,757.6 590.9,755.5 611.0,767.0 C631.1,778.5 628.9,776.4 650.0,790.0 C671.1,803.6 679.3,810.5 690.0,818.0"/><path d="M-5.0,375.0 C7.8,368.3 20.3,359.3 43.0,350.0 C65.7,340.7 60.3,346.1 80.0,340.0 C99.7,333.9 99.1,335.0 117.0,327.0 C134.9,319.0 132.1,319.1 147.0,310.0 C161.9,300.9 159.7,303.4 173.0,293.0 C186.3,282.6 181.0,283.0 197.0,271.0 C213.0,259.0 214.3,259.7 233.0,248.0 C251.7,236.3 240.3,239.0 267.0,227.0 C293.7,215.0 294.1,211.5 333.0,203.0 C371.9,194.5 381.8,196.6 413.0,195.0 C444.2,193.4 428.7,190.3 450.0,197.0 C471.3,203.7 474.3,210.4 493.0,220.0 C511.7,229.6 504.8,224.2 520.0,233.0 C535.2,241.8 538.0,243.7 550.0,253.0 C562.0,262.3 561.0,264.0 565.0,268.0"/><path d="M287.0,86.0 C299.3,84.4 311.7,82.1 333.0,80.0 C354.3,77.9 349.1,75.3 367.0,78.0 C384.9,80.7 382.4,84.1 400.0,90.0 C417.6,95.9 415.1,90.1 433.0,100.0 C450.9,109.9 455.3,111.0 467.0,127.0 C478.7,143.0 473.5,144.0 477.0,160.0 C480.5,176.0 475.7,171.8 480.0,187.0 C484.3,202.2 490.3,202.9 493.0,217.0 C495.7,231.1 485.5,229.1 490.0,240.0 C494.5,250.9 496.7,251.7 510.0,258.0 C523.3,264.3 526.5,257.2 540.0,263.5 C553.5,269.8 546.8,267.9 560.6,281.6 C574.4,295.3 576.5,294.4 591.6,315.0 C606.7,335.6 603.7,339.0 617.4,359.0 C631.1,379.0 627.9,374.9 643.0,390.0 C658.1,405.1 657.5,405.4 674.0,415.7 C690.5,426.0 688.5,423.8 705.0,428.6 C721.5,433.4 721.1,431.6 736.0,433.8 C750.9,436.0 750.3,433.6 761.0,437.0 C771.7,440.4 769.4,436.9 776.0,446.7 C782.6,456.5 780.6,460.0 785.8,473.7 C791.0,487.4 789.1,481.0 795.6,498.0 C802.1,515.0 802.7,526.4 810.0,537.6 C817.3,548.8 819.5,539.4 823.0,540.0"/><path d="M-5.0,634.0 C40.1,634.0 97.1,636.7 164.0,634.0 C230.9,631.3 196.7,632.3 246.0,624.0 C295.3,615.7 305.3,611.8 349.0,603.0 C392.7,594.2 382.8,587.8 410.0,591.0 C437.2,594.2 434.5,604.6 451.0,615.0 C467.5,625.4 450.1,626.5 472.0,630.0 C493.9,633.5 495.9,632.0 533.0,628.0 C570.1,624.0 577.1,622.5 611.0,615.0 C644.9,607.5 636.3,609.3 660.0,600.0 C683.7,590.7 686.1,590.7 700.0,580.0 C713.9,569.3 710.1,571.3 712.0,560.0 C713.9,548.7 707.0,548.2 707.0,537.6 C707.0,527.0 706.7,528.3 712.0,520.4 C717.3,512.5 716.9,514.0 726.8,508.0 C736.7,502.0 734.6,501.9 749.0,498.0 C763.4,494.1 768.4,493.4 780.8,493.4 C793.2,493.4 791.7,496.8 795.6,498.0"/><path d="M795.6,498.0 C796.8,509.2 796.2,519.5 800.0,540.0 C803.8,560.5 802.0,559.0 810.0,575.0 C818.0,591.0 818.5,586.7 830.0,600.0 C841.5,613.3 846.9,618.3 853.0,625.0"/><path d="M823.0,540.0 C823.5,546.7 819.7,549.5 825.0,565.0 C830.3,580.5 833.7,584.7 843.0,598.0 C852.3,611.3 850.7,605.1 860.0,615.0 C869.3,624.9 872.5,622.9 878.0,635.0 C883.5,647.1 882.5,645.7 880.5,660.5 C878.5,675.3 874.5,675.9 870.5,690.6 C866.5,705.3 866.1,701.5 865.4,715.7 C864.7,729.9 865.4,724.2 868.0,744.0 C870.6,763.8 871.3,770.3 875.0,790.0 C878.7,809.7 880.1,810.5 882.0,818.0"/><path d="M1446.4,348.6 C1458.2,342.7 1471.0,345.2 1490.6,326.5 C1510.2,307.8 1503.5,299.5 1520.0,278.6 C1536.5,257.7 1534.9,265.7 1552.6,248.0 C1570.3,230.3 1574.5,228.6 1586.5,212.2 C1598.5,195.8 1597.6,201.1 1597.6,186.4 C1597.6,171.7 1597.3,172.7 1586.5,157.0 C1575.7,141.3 1569.4,142.6 1557.0,127.4 C1544.6,112.2 1547.2,118.0 1540.0,100.0 C1532.8,82.0 1532.7,70.7 1530.0,60.0"/><path d="M1374.0,316.7 C1379.3,307.7 1381.5,298.1 1394.0,283.0 C1406.5,267.9 1406.1,272.8 1421.0,260.0 C1435.9,247.2 1436.9,251.0 1450.0,235.0 C1463.1,219.0 1462.0,220.0 1470.0,200.0 C1478.0,180.0 1475.2,181.3 1480.0,160.0 C1484.8,138.7 1484.0,141.3 1488.0,120.0 C1492.0,98.7 1489.1,101.3 1495.0,80.0 C1500.9,58.7 1500.7,62.7 1510.0,40.0 C1519.3,17.3 1524.7,7.0 1530.0,-5.0"/><path d="M1367.7,360.0 C1369.4,348.5 1370.7,332.7 1374.0,316.7 C1377.3,300.7 1373.1,309.8 1380.0,300.0 C1386.9,290.2 1386.7,290.1 1400.0,280.0 C1413.3,269.9 1422.0,266.8 1430.0,262.0"/><path d="M1454.4,498.4 C1466.6,501.0 1476.9,503.6 1500.0,508.0 C1523.1,512.4 1517.6,515.3 1541.0,515.0 C1564.4,514.7 1558.1,513.4 1587.7,506.7 C1617.3,500.0 1616.5,495.3 1652.0,490.0 C1687.5,484.7 1684.8,493.9 1721.0,486.7 C1757.2,479.5 1756.8,473.9 1787.7,463.0 C1818.6,452.1 1823.9,450.5 1837.0,446.0"/><path d="M1174.0,520.0 C1186.3,516.0 1197.1,511.1 1220.0,505.0 C1242.9,498.9 1238.7,499.4 1260.0,497.0 C1281.3,494.6 1277.1,496.5 1300.0,496.0 C1322.9,495.5 1319.3,494.7 1346.0,495.0 C1372.7,495.3 1371.1,496.1 1400.0,497.0 C1428.9,497.9 1439.9,498.0 1454.4,498.4"/><path d="M1310.0,646.0 C1316.7,646.5 1321.7,650.1 1335.0,648.0 C1348.3,645.9 1345.9,642.0 1360.0,638.0 C1374.1,634.0 1371.4,629.8 1387.7,633.0 C1404.0,636.2 1403.3,635.7 1421.0,650.0 C1438.7,664.3 1438.0,669.9 1454.0,686.7 C1470.0,703.5 1463.1,700.7 1481.0,713.0 C1498.9,725.3 1492.5,721.3 1521.0,733.0 C1549.5,744.7 1560.0,745.5 1587.7,756.7 C1615.4,767.9 1605.7,758.7 1625.0,775.0 C1644.3,791.3 1650.7,806.5 1660.0,818.0"/><path d="M1346.0,-5.0 C1345.7,9.7 1345.5,22.0 1345.0,50.0 C1344.5,78.0 1344.5,73.3 1344.0,100.0 C1343.5,126.7 1343.3,123.3 1343.0,150.0 C1342.7,176.7 1341.4,175.7 1343.0,200.0 C1344.6,224.3 1342.7,221.0 1349.0,241.0 C1355.3,261.0 1358.4,256.7 1366.5,275.0 C1374.6,293.3 1377.5,294.8 1379.5,309.5 C1381.5,324.2 1375.5,324.5 1374.0,330.0"/><path d="M1427.0,-5.0 C1426.2,7.0 1426.4,15.7 1424.0,40.0 C1421.6,64.3 1424.1,62.3 1418.0,86.0 C1411.9,109.7 1412.5,108.5 1401.0,129.0 C1389.5,149.5 1391.0,147.0 1375.0,163.0 C1359.0,179.0 1359.4,175.1 1341.0,189.0 C1322.6,202.9 1326.8,201.1 1306.0,215.0 C1285.2,228.9 1283.5,229.5 1263.0,241.0 C1242.5,252.5 1245.8,248.9 1229.0,258.0 C1212.2,267.1 1221.1,263.8 1200.0,275.0 C1178.9,286.2 1176.7,288.5 1150.0,300.0 C1123.3,311.5 1124.0,308.7 1100.0,318.0 C1076.0,327.3 1081.3,326.5 1060.0,335.0 C1038.7,343.5 1030.7,346.0 1020.0,350.0"/><path d="M1380.0,304.0 C1389.8,294.3 1401.2,282.7 1416.9,267.5 C1432.6,252.3 1424.3,259.8 1439.0,247.0 C1453.7,234.2 1455.3,233.7 1472.0,219.5 C1488.7,205.3 1482.0,203.5 1501.7,193.7 C1521.4,183.9 1520.4,182.7 1546.0,182.7 C1571.6,182.7 1558.3,192.7 1597.6,193.7 C1636.9,194.7 1653.1,190.3 1693.4,186.4 C1733.7,182.5 1710.4,182.0 1748.7,179.0 C1787.0,176.0 1813.5,176.1 1837.0,175.0"/></g>
<g stroke="#dfdfdd" stroke-width="7.0"><path d="M-5.0,556.0 C7.3,554.4 19.4,555.2 41.0,550.0 C62.6,544.8 57.6,544.6 76.0,536.6 C94.4,528.6 92.1,529.5 110.0,520.0 C127.9,510.5 119.0,517.0 143.0,501.0 C167.0,485.0 177.6,476.3 200.0,460.0 C222.4,443.7 213.7,447.5 227.0,440.0 C240.3,432.5 243.9,434.1 250.0,432.0"/><path d="M600.0,830.0 C611.2,823.9 613.2,826.7 642.0,807.0 C670.8,787.3 678.1,783.2 708.0,756.0 C737.9,728.8 736.4,734.9 754.0,705.0 C771.6,675.1 760.4,665.6 774.0,644.0 C787.6,622.4 786.1,630.7 805.0,624.0 C823.9,617.3 827.4,627.3 845.0,619.0 C862.6,610.7 858.9,603.4 871.0,593.0 C883.1,582.6 879.9,588.8 890.5,580.0 C901.1,571.2 899.9,568.7 910.6,560.0 C921.3,551.3 921.5,554.2 930.7,547.5 C939.9,540.8 935.9,539.7 945.0,535.0 C954.1,530.3 954.3,528.7 965.0,530.0 C975.7,531.3 979.7,537.3 985.0,540.0"/><path d="M1331.0,337.0 C1344.1,337.1 1356.3,335.4 1380.0,337.5 C1403.7,339.6 1402.3,342.0 1420.0,345.0 C1437.7,348.0 1439.4,347.6 1446.4,348.6"/><path d="M1331.0,337.0 C1322.7,339.1 1316.3,341.5 1300.0,345.0 C1283.7,348.5 1288.7,348.1 1270.0,350.0 C1251.3,351.9 1251.3,352.0 1230.0,352.0 C1208.7,352.0 1211.3,353.2 1190.0,350.0 C1168.7,346.8 1171.3,345.3 1150.0,340.0 C1128.7,334.7 1127.3,334.0 1110.0,330.0 C1092.7,326.0 1091.7,326.3 1085.0,325.0"/><path d="M1471.0,480.0 C1484.1,463.8 1493.1,452.5 1520.0,419.4 C1546.9,386.3 1544.1,388.6 1571.7,356.0 C1599.3,323.4 1599.9,323.6 1623.4,297.0 C1646.9,270.4 1638.4,277.0 1660.0,256.4 C1681.6,235.8 1680.8,238.3 1704.5,219.6 C1728.2,200.9 1725.9,205.0 1748.7,186.4 C1771.5,167.8 1766.5,168.8 1790.0,150.0 C1813.5,131.2 1824.5,125.1 1837.0,116.0"/></g>
<g stroke="#dfdfdd" stroke-width="9.5"><path d="M300.0,-5.0 C299.2,4.3 298.9,12.7 297.0,30.0 C295.1,47.3 297.5,46.7 293.0,60.0 C288.5,73.3 288.3,72.0 280.0,80.0 C271.7,88.0 270.8,85.5 262.0,90.0 C253.2,94.5 254.7,89.8 247.0,97.0 C239.3,104.2 238.3,107.4 233.0,117.0 C227.7,126.6 232.6,124.2 227.0,133.0 C221.4,141.8 219.2,140.9 212.0,150.0 C204.8,159.1 206.4,156.3 200.0,167.0 C193.6,177.7 193.3,179.3 188.0,190.0 C182.7,200.7 184.8,196.3 180.0,207.0 C175.2,217.7 176.1,216.7 170.0,230.0 C163.9,243.3 165.0,241.0 157.0,257.0 C149.0,273.0 148.0,272.4 140.0,290.0 C132.0,307.6 131.5,303.5 127.0,323.0 C122.5,342.5 123.5,343.3 123.0,363.0 C122.5,382.7 122.3,377.3 125.0,397.0 C127.7,416.7 130.3,419.4 133.0,437.0 C135.7,454.6 137.1,448.9 135.0,463.0 C132.9,477.1 130.3,477.5 125.0,490.0 C119.7,502.5 119.5,500.7 115.0,510.0 C110.5,519.3 109.3,511.1 108.0,525.0 C106.7,538.9 108.1,530.3 110.0,562.0 C111.9,593.7 113.1,600.3 115.0,644.0 C116.9,687.7 114.9,679.6 117.0,726.0 C119.1,772.4 121.4,793.5 123.0,818.0"/><path d="M-5.0,248.0 C14.2,247.7 39.0,247.0 67.0,247.0 C95.0,247.0 82.4,246.4 100.0,248.0 C117.6,249.6 113.5,247.1 133.0,253.0 C152.5,258.9 155.1,260.9 173.0,270.0 C190.9,279.1 188.3,277.1 200.0,287.0 C211.7,296.9 208.2,293.7 217.0,307.0 C225.8,320.3 223.4,320.2 233.0,337.0 C242.6,353.8 246.3,355.9 253.0,370.0 C259.7,384.1 257.5,377.5 258.0,390.0 C258.5,402.5 257.1,405.8 255.0,417.0 C252.9,428.2 246.8,425.9 250.0,432.0 C253.2,438.1 253.7,434.4 267.0,440.0 C280.3,445.6 282.4,445.0 300.0,453.0 C317.6,461.0 318.9,459.3 333.0,470.0 C347.1,480.7 342.6,482.3 353.0,493.0 C363.4,503.7 362.7,502.5 372.0,510.0 C381.3,517.5 375.2,515.1 388.0,521.0 C400.8,526.9 403.2,526.5 420.0,532.0 C436.8,537.5 432.3,535.9 451.0,541.5 C469.7,547.1 473.5,549.1 490.0,553.0 C506.5,556.9 498.1,557.9 513.0,556.0 C527.9,554.1 531.9,556.1 546.0,545.7 C560.1,535.3 558.3,527.9 566.0,517.0 C573.7,506.1 568.6,508.7 575.0,505.0 C581.4,501.3 579.6,515.9 590.0,503.0 C600.4,490.1 601.2,466.9 614.0,456.5 C626.8,446.1 624.9,465.3 638.0,464.0 C651.1,462.7 649.8,457.5 663.0,451.6 C676.2,445.7 674.4,447.0 687.5,441.8 C700.6,436.6 698.9,434.6 712.0,432.0 C725.1,429.4 723.5,430.7 736.6,432.0 C749.7,433.3 754.5,435.7 761.0,437.0"/><path d="M1710.0,240.0 C1708.1,232.0 1707.4,224.3 1703.0,210.0 C1698.6,195.7 1699.5,202.4 1693.4,186.4 C1687.3,170.4 1687.8,167.7 1680.0,150.0 C1672.2,132.3 1673.3,141.3 1664.0,120.0 C1654.7,98.7 1655.4,94.0 1645.0,70.0 C1634.6,46.0 1633.8,50.0 1625.0,30.0 C1616.2,10.0 1615.5,4.3 1612.0,-5.0"/><path d="M1710.0,240.0 C1711.5,252.3 1712.0,259.1 1715.5,286.0 C1719.0,312.9 1718.1,305.5 1723.0,341.0 C1727.9,376.5 1729.2,387.3 1734.0,419.0 C1738.8,450.7 1738.3,438.4 1741.0,460.0 C1743.7,481.6 1739.5,480.5 1744.0,500.0 C1748.5,519.5 1753.7,506.3 1757.7,533.0 C1761.7,559.7 1761.7,571.5 1759.0,600.0 C1756.3,628.5 1757.8,616.9 1747.7,640.0 C1737.6,663.1 1737.0,661.9 1721.0,686.7 C1705.0,711.5 1702.9,710.6 1687.7,733.0 C1672.5,755.4 1675.4,748.0 1664.0,770.7 C1652.6,793.4 1650.1,805.4 1645.0,818.0"/></g>
<g stroke="#ffffff" stroke-width="2.4"><path d="M-5.0,15.0 C5.1,28.9 10.3,47.5 33.0,67.0 C55.7,86.5 54.9,78.4 80.0,88.0 C105.1,97.6 102.2,97.1 127.0,103.0 C151.8,108.9 144.7,102.0 173.0,110.0 C201.3,118.0 199.1,121.5 233.0,133.0 C266.9,144.5 264.3,142.3 300.0,153.0 C335.7,163.7 336.9,163.1 367.0,173.0 C397.1,182.9 400.2,183.6 413.0,190.0 C425.8,196.4 414.5,195.1 415.0,197.0"/><path d="M317.0,28.0 C331.1,29.1 341.7,29.6 370.0,32.0 C398.3,34.4 403.5,31.4 423.0,37.0 C442.5,42.6 431.3,43.4 443.0,53.0 C454.7,62.6 453.7,60.5 467.0,73.0 C480.3,85.5 480.7,84.0 493.0,100.0 C505.3,116.0 503.1,115.1 513.0,133.0 C522.9,150.9 522.8,149.1 530.0,167.0 C537.2,184.9 534.7,184.0 540.0,200.0 C545.3,216.0 542.5,218.5 550.0,227.0 C557.5,235.5 558.4,227.1 568.0,232.0 C577.6,236.9 576.3,234.4 586.0,245.5 C595.7,256.6 594.1,258.0 604.5,273.8 C614.9,289.6 616.1,289.0 625.0,304.8 C633.9,320.6 631.9,317.2 638.0,333.0 C644.1,348.8 639.7,348.8 648.0,364.0 C656.3,379.2 655.1,379.1 669.0,390.0 C682.9,400.9 682.8,399.5 700.0,405.0 C717.2,410.5 714.8,408.2 733.5,410.6 C752.2,413.0 752.3,411.5 770.0,414.0 C787.7,416.5 786.1,415.2 800.0,420.0 C813.9,424.8 816.1,428.8 822.0,432.0"/><path d="M410.0,-5.0 C413.5,1.7 417.7,9.9 423.0,20.0 C428.3,30.1 422.8,25.0 430.0,33.0 C437.2,41.0 440.1,40.9 450.0,50.0 C459.9,59.1 453.7,53.7 467.0,67.0 C480.3,80.3 485.9,83.2 500.0,100.0 C514.1,116.8 509.3,112.7 520.0,130.0 C530.7,147.3 531.2,146.3 540.0,165.0 C548.8,183.7 546.3,184.0 553.0,200.0 C559.7,216.0 555.1,213.0 565.0,225.0 C574.9,237.0 575.3,235.1 590.0,245.0 C604.7,254.9 601.3,251.3 620.0,262.0 C638.7,272.7 638.7,272.2 660.0,285.0 C681.3,297.8 678.7,298.0 700.0,310.0 C721.3,322.0 718.7,320.7 740.0,330.0 C761.3,339.3 769.3,341.0 780.0,345.0"/><path d="M273.0,230.0 C284.7,238.8 296.5,245.1 317.0,263.0 C337.5,280.9 334.0,286.3 350.0,297.0 C366.0,307.7 361.0,296.1 377.0,303.0 C393.0,309.9 395.1,308.6 410.0,323.0 C424.9,337.4 415.1,341.0 433.0,357.0 C450.9,373.0 459.1,369.7 477.0,383.0 C494.9,396.3 488.5,392.6 500.0,407.0 C511.5,421.4 507.5,422.1 520.0,437.0 C532.5,451.9 538.2,445.9 547.0,463.0 C555.8,480.1 549.0,487.0 553.0,501.0 C557.0,515.0 558.3,505.7 562.0,515.5 C565.7,525.3 559.8,523.9 567.0,537.6 C574.2,551.3 574.6,551.3 589.0,567.0 C603.4,582.7 604.7,581.1 621.0,596.6 C637.3,612.1 634.3,608.1 650.0,625.0 C665.7,641.9 672.0,650.7 680.0,660.0"/><path d="M-5.0,591.0 C18.2,588.9 36.9,585.8 82.0,583.0 C127.1,580.2 120.3,586.1 164.0,580.5 C207.7,574.9 207.6,570.1 246.0,562.0 C284.4,553.9 275.2,562.0 308.0,550.0 C340.8,538.0 347.7,524.7 369.0,517.0 C390.3,509.3 382.9,519.9 388.0,521.0"/><path d="M246.0,818.0 C267.9,810.0 289.6,793.9 328.0,788.0 C366.4,782.1 357.2,803.7 390.0,796.0 C422.8,788.3 418.2,777.7 451.0,759.0 C483.8,740.3 480.1,743.6 513.0,726.0 C545.9,708.4 548.4,705.0 574.5,693.0 C600.6,681.0 582.9,692.5 611.0,681.0 C639.1,669.5 645.6,666.3 680.0,650.0 C714.4,633.7 710.7,636.0 740.0,620.0 C769.3,604.0 768.1,604.7 790.0,590.0 C811.9,575.3 813.5,571.7 822.0,565.0"/><path d="M94.0,478.0 C90.8,494.9 85.2,497.2 82.0,541.5 C78.8,585.8 78.8,605.7 82.0,644.0 C85.2,682.3 77.5,666.3 94.0,685.0 C110.5,703.7 119.7,700.9 144.0,714.0 C168.3,727.1 168.7,717.6 185.0,734.0 C201.3,750.4 197.5,753.1 205.0,775.5 C212.5,797.9 210.9,806.7 213.0,818.0"/><path d="M383.0,501.0 C396.3,493.5 406.3,483.9 433.0,473.0 C459.7,462.1 456.3,464.3 483.0,460.0 C509.7,455.7 510.6,461.5 533.0,457.0 C555.4,452.5 546.2,445.7 567.0,443.0 C587.8,440.3 588.9,447.8 611.0,447.0 C633.1,446.2 629.6,441.4 650.0,440.0 C670.4,438.6 677.5,441.3 687.5,441.8"/><path d="M500.0,-5.0 C512.5,4.3 524.9,15.3 547.0,30.0 C569.1,44.7 565.9,40.1 583.0,50.0 C600.1,59.9 593.1,55.0 611.0,67.0 C628.9,79.0 626.3,78.2 650.0,95.0 C673.7,111.8 686.7,120.7 700.0,130.0"/><path d="M611.0,13.0 C599.3,15.7 584.1,18.5 567.0,23.0 C549.9,27.5 552.3,28.1 547.0,30.0"/><path d="M487.0,230.0 C488.6,234.5 480.7,238.2 493.0,247.0 C505.3,255.8 515.1,254.2 533.0,263.0 C550.9,271.8 553.6,272.0 560.0,280.0 C566.4,288.0 565.8,288.5 557.0,293.0 C548.2,297.5 544.1,287.9 527.0,297.0 C509.9,306.1 505.5,313.7 493.0,327.0 C480.5,340.3 481.6,335.5 480.0,347.0 C478.4,358.5 479.8,355.1 487.0,370.0 C494.2,384.9 496.3,385.1 507.0,403.0 C517.7,420.9 516.3,421.0 527.0,437.0 C537.7,453.0 541.7,456.1 547.0,463.0"/><path d="M540.0,537.6 C543.9,533.7 541.6,532.1 554.7,522.9 C567.8,513.7 570.0,512.8 589.0,503.0 C608.0,493.2 611.6,497.1 626.0,486.0 C640.4,474.9 634.5,467.3 643.0,461.4 C651.5,455.5 646.1,462.8 658.0,464.0 C669.9,465.2 673.1,467.3 687.5,466.0 C701.9,464.7 695.6,462.8 712.0,459.0 C728.4,455.2 734.6,452.3 749.0,451.6 C763.4,450.9 761.5,455.2 766.0,456.5"/><path d="M572.0,542.5 C585.1,539.9 600.0,539.2 621.0,532.7 C642.0,526.2 635.5,525.2 650.6,518.0 C665.7,510.8 661.9,513.6 677.6,505.7 C693.3,497.8 693.9,495.7 709.6,488.5 C725.3,481.3 722.9,482.5 736.6,478.6 C750.3,474.7 748.6,472.4 761.0,473.7 C773.4,475.0 777.1,481.0 783.0,483.6"/><path d="M667.8,527.8 C673.1,535.7 675.7,541.6 687.5,557.3 C699.3,573.0 699.3,572.7 712.0,586.8 C724.7,600.9 722.2,595.8 735.0,610.0 C747.8,624.2 745.3,624.0 760.0,640.0 C774.7,656.0 774.0,654.0 790.0,670.0 C806.0,686.0 812.0,692.0 820.0,700.0"/><path d="M-5.0,430.0 C7.0,424.7 17.3,423.3 40.0,410.0 C62.7,396.7 64.0,393.3 80.0,380.0 C96.0,366.7 87.5,370.7 100.0,360.0 C112.5,349.3 119.8,345.3 127.0,340.0"/><path d="M57.0,247.0 C57.8,255.8 55.2,263.2 60.0,280.0 C64.8,296.8 67.8,294.0 75.0,310.0 C82.2,326.0 80.3,325.3 87.0,340.0 C93.7,354.7 95.2,349.0 100.0,365.0 C104.8,381.0 103.7,390.7 105.0,400.0"/><path d="M160.0,247.0 C157.3,255.8 153.5,263.2 150.0,280.0 C146.5,296.8 147.8,302.0 147.0,310.0"/><path d="M611.0,767.0 C618.7,759.8 624.3,753.9 640.0,740.0 C655.7,726.1 654.0,728.3 670.0,715.0 C686.0,701.7 681.3,704.7 700.0,690.0 C718.7,675.3 718.7,673.3 740.0,660.0 C761.3,646.7 758.1,648.0 780.0,640.0 C801.9,632.0 810.8,632.7 822.0,630.0"/><path d="M611.0,615.0 C618.7,621.7 624.3,622.7 640.0,640.0 C655.7,657.3 654.0,658.7 670.0,680.0 C686.0,701.3 686.7,698.7 700.0,720.0 C713.3,741.3 709.3,733.9 720.0,760.0 C730.7,786.1 734.7,802.5 740.0,818.0"/><path d="M766.0,437.0 L773.5,414.7"/><path d="M785.8,471.0 C795.6,468.3 808.7,466.1 822.6,461.0 C836.5,455.9 833.9,454.4 838.0,452.0"/><path d="M793.0,488.5 L835.0,481.0"/><path d="M812.8,518.0 C823.9,514.0 836.7,508.6 854.6,503.0 C872.5,497.4 873.2,498.6 880.0,497.0"/><path d="M853.0,625.0 C853.0,629.0 854.3,629.2 853.0,640.0 C851.7,650.8 850.1,652.0 848.0,665.5 C845.9,679.0 846.3,677.2 845.0,690.6 C843.7,704.0 843.0,701.5 843.0,715.7 C843.0,729.9 843.1,726.9 845.0,744.0 C846.9,761.1 847.1,760.3 850.0,780.0 C852.9,799.7 854.4,807.9 856.0,818.0"/><path d="M785.0,625.0 C786.3,634.3 786.0,640.0 790.0,660.0 C794.0,680.0 793.3,678.7 800.0,700.0 C806.7,721.3 807.0,718.7 815.0,740.0 C823.0,761.3 823.3,759.2 830.0,780.0 C836.7,800.8 837.3,807.9 840.0,818.0"/><path d="M1446.4,348.6 C1460.7,347.1 1469.7,346.6 1500.0,343.0 C1530.3,339.4 1528.0,338.5 1560.0,335.0 C1592.0,331.5 1589.3,331.3 1620.0,330.0 C1650.7,328.7 1660.3,330.0 1675.0,330.0"/><path d="M1421.0,260.0 C1428.7,260.5 1431.1,263.3 1450.0,262.0 C1468.9,260.7 1473.1,253.7 1492.0,255.0 C1510.9,256.3 1499.9,256.6 1521.0,266.7 C1542.1,276.8 1539.9,285.0 1571.0,293.0 C1602.1,301.0 1606.6,286.0 1637.7,296.7 C1668.8,307.4 1663.7,319.7 1687.7,333.0 C1711.7,346.3 1706.4,340.4 1727.7,346.7 C1749.0,353.0 1750.0,347.0 1767.7,356.7 C1785.4,366.4 1781.7,362.7 1794.0,383.0 C1806.3,403.3 1807.1,409.8 1814.0,433.0 C1820.9,456.2 1817.1,446.8 1820.0,470.0 C1822.9,493.2 1823.7,506.7 1825.0,520.0"/><path d="M1266.0,715.5 C1276.1,714.8 1284.9,708.3 1304.0,713.0 C1323.1,717.7 1319.2,721.5 1337.7,733.0 C1356.2,744.5 1356.7,744.8 1373.3,756.0 C1389.9,767.2 1387.5,758.5 1400.0,775.0 C1412.5,791.5 1414.7,806.5 1420.0,818.0"/><path d="M1522.7,516.7 C1525.7,534.4 1527.8,553.7 1534.0,583.0 C1540.2,612.3 1549.5,609.7 1546.0,626.7 C1542.5,643.7 1532.2,637.8 1521.0,646.7 C1509.8,655.6 1512.9,648.5 1504.0,660.0 C1495.1,671.5 1497.4,678.5 1487.7,690.0 C1478.0,701.5 1485.5,696.9 1467.7,703.0 C1449.9,709.1 1440.7,705.0 1421.0,713.0 C1401.3,721.0 1406.7,721.5 1394.0,733.0 C1381.3,744.5 1378.8,749.9 1373.3,756.0"/><path d="M1547.7,616.7 C1553.9,612.2 1558.7,608.0 1571.0,600.0 C1583.3,592.0 1585.2,592.6 1594.0,586.7 C1602.8,580.8 1583.5,580.7 1604.0,578.0 C1624.5,575.3 1644.3,572.7 1671.0,576.7 C1697.7,580.7 1688.9,583.3 1704.0,593.0 C1719.1,602.7 1710.7,606.3 1727.7,613.0 C1744.7,619.7 1757.0,616.7 1767.7,618.0"/><path d="M1267.7,74.0 C1276.3,72.4 1280.7,66.4 1300.0,68.0 C1319.3,69.6 1318.7,75.5 1340.0,80.0 C1361.3,84.5 1358.7,82.3 1380.0,85.0 C1401.3,87.7 1398.7,87.3 1420.0,90.0 C1441.3,92.7 1439.5,94.2 1460.0,95.0 C1480.5,95.8 1483.4,95.7 1497.0,93.0 C1510.6,90.3 1499.3,81.3 1511.0,85.0 C1522.7,88.7 1524.2,90.5 1541.0,107.0 C1557.8,123.5 1558.9,133.7 1574.0,147.0 C1589.1,160.3 1576.4,166.9 1597.7,157.0 C1619.0,147.1 1630.0,129.7 1654.0,110.0 C1678.0,90.3 1661.0,92.9 1687.7,83.0 C1714.4,73.1 1714.2,73.8 1754.0,73.0 C1793.8,72.2 1814.9,78.1 1837.0,80.0"/><path d="M1221.0,62.0 C1228.7,63.6 1237.5,64.8 1250.0,68.0 C1262.5,71.2 1263.0,72.4 1267.7,74.0"/><path d="M1100.0,20.0 C1110.7,20.5 1118.7,19.3 1140.0,22.0 C1161.3,24.7 1161.3,23.9 1180.0,30.0 C1198.7,36.1 1196.1,37.0 1210.0,45.0 C1223.9,53.0 1218.7,51.2 1232.0,60.0 C1245.3,68.8 1241.9,70.5 1260.0,78.0 C1278.1,85.5 1277.3,84.8 1300.0,88.0 C1322.7,91.2 1321.0,88.7 1345.0,90.0 C1369.0,91.3 1364.7,90.3 1390.0,93.0 C1415.3,95.7 1416.0,95.5 1440.0,100.0 C1464.0,104.5 1469.3,107.3 1480.0,110.0"/><path d="M1207.8,132.3 C1216.4,126.4 1224.0,125.5 1240.0,110.0 C1256.0,94.5 1254.4,90.0 1267.7,74.0 C1281.0,58.0 1278.7,64.4 1290.0,50.0 C1301.3,35.6 1299.3,34.7 1310.0,20.0 C1320.7,5.3 1324.7,1.7 1330.0,-5.0"/><path d="M1113.0,120.0 C1122.9,116.0 1132.1,113.0 1150.0,105.0 C1167.9,97.0 1166.7,99.3 1180.0,90.0 C1193.3,80.7 1190.7,80.7 1200.0,70.0 C1209.3,59.3 1206.5,59.3 1215.0,50.0 C1223.5,40.7 1226.4,44.3 1232.0,35.0 C1237.6,25.7 1234.4,25.7 1236.0,15.0 C1237.6,4.3 1237.5,0.3 1238.0,-5.0"/><path d="M1180.0,175.0 C1187.4,168.3 1191.8,162.0 1207.8,150.0 C1223.8,138.0 1220.7,143.3 1240.0,130.0 C1259.3,116.7 1261.3,112.0 1280.0,100.0 C1298.7,88.0 1302.0,89.0 1310.0,85.0"/><path d="M1340.8,228.0 C1351.3,228.5 1357.1,228.9 1380.0,230.0 C1402.9,231.1 1398.2,226.9 1426.7,232.0 C1455.2,237.1 1459.5,243.2 1487.0,249.0 C1514.5,254.8 1512.7,254.0 1530.0,253.7 C1547.3,253.4 1546.1,249.5 1552.0,248.0"/><path d="M1552.0,247.7 C1559.5,241.6 1567.2,239.9 1580.0,225.0 C1592.8,210.1 1594.7,200.8 1600.0,192.0"/><path d="M1425.0,230.0 C1434.3,232.7 1440.0,234.7 1460.0,240.0 C1480.0,245.3 1475.5,247.9 1500.0,250.0 C1524.5,252.1 1530.7,254.4 1552.0,247.7 C1573.3,241.0 1572.5,231.1 1580.0,225.0"/><path d="M1446.0,349.0 C1455.1,343.9 1462.9,343.1 1480.0,330.0 C1497.1,316.9 1495.3,314.7 1510.0,300.0 C1524.7,285.3 1523.8,288.9 1535.0,275.0 C1546.2,261.1 1547.5,255.0 1552.0,247.7"/><path d="M1355.0,397.7 C1351.0,403.6 1349.3,408.7 1340.0,420.0 C1330.7,431.3 1329.8,431.8 1320.0,440.0 C1310.2,448.2 1314.1,442.7 1303.4,450.7 C1292.7,458.7 1291.6,457.7 1280.0,470.0 C1268.4,482.3 1265.3,489.8 1260.0,497.0"/><path d="M1355.0,397.7 L1367.7,360.0"/><path d="M1487.7,340.0 C1491.0,350.7 1494.1,358.7 1500.0,380.0 C1505.9,401.3 1504.4,410.2 1510.0,420.0 C1515.6,429.8 1518.1,417.6 1521.0,416.7"/><path d="M1754.3,436.7 C1755.8,445.6 1751.1,463.0 1760.0,470.0 C1768.9,477.0 1780.3,464.9 1787.7,463.0"/></g>
<g stroke="#ffffff" stroke-width="3.4"><path d="M-5.0,244.0 C1.7,251.7 3.5,250.9 20.0,273.0 C36.5,295.1 39.1,304.6 57.0,327.0 C74.9,349.4 66.7,340.2 87.0,357.0 C107.3,373.8 110.1,377.7 133.0,390.0 C155.9,402.3 151.7,390.5 173.0,403.0 C194.3,415.5 195.1,421.0 213.0,437.0 C230.9,453.0 229.1,451.5 240.0,463.0 C250.9,474.5 244.1,470.9 254.0,480.0 C263.9,489.1 257.3,480.6 277.0,497.0 C296.7,513.4 297.9,515.4 328.0,541.5 C358.1,567.6 362.5,567.7 390.0,595.0 C417.5,622.3 409.1,617.9 431.0,644.0 C452.9,670.1 444.8,671.1 472.0,693.0 C499.2,714.9 505.7,711.7 533.0,726.0 C560.3,740.3 553.7,735.8 574.5,746.7 C595.3,757.6 590.9,755.5 611.0,767.0 C631.1,778.5 628.9,776.4 650.0,790.0 C671.1,803.6 679.3,810.5 690.0,818.0"/><path d="M-5.0,375.0 C7.8,368.3 20.3,359.3 43.0,350.0 C65.7,340.7 60.3,346.1 80.0,340.0 C99.7,333.9 99.1,335.0 117.0,327.0 C134.9,319.0 132.1,319.1 147.0,310.0 C161.9,300.9 159.7,303.4 173.0,293.0 C186.3,282.6 181.0,283.0 197.0,271.0 C213.0,259.0 214.3,259.7 233.0,248.0 C251.7,236.3 240.3,239.0 267.0,227.0 C293.7,215.0 294.1,211.5 333.0,203.0 C371.9,194.5 381.8,196.6 413.0,195.0 C444.2,193.4 428.7,190.3 450.0,197.0 C471.3,203.7 474.3,210.4 493.0,220.0 C511.7,229.6 504.8,224.2 520.0,233.0 C535.2,241.8 538.0,243.7 550.0,253.0 C562.0,262.3 561.0,264.0 565.0,268.0"/><path d="M287.0,86.0 C299.3,84.4 311.7,82.1 333.0,80.0 C354.3,77.9 349.1,75.3 367.0,78.0 C384.9,80.7 382.4,84.1 400.0,90.0 C417.6,95.9 415.1,90.1 433.0,100.0 C450.9,109.9 455.3,111.0 467.0,127.0 C478.7,143.0 473.5,144.0 477.0,160.0 C480.5,176.0 475.7,171.8 480.0,187.0 C484.3,202.2 490.3,202.9 493.0,217.0 C495.7,231.1 485.5,229.1 490.0,240.0 C494.5,250.9 496.7,251.7 510.0,258.0 C523.3,264.3 526.5,257.2 540.0,263.5 C553.5,269.8 546.8,267.9 560.6,281.6 C574.4,295.3 576.5,294.4 591.6,315.0 C606.7,335.6 603.7,339.0 617.4,359.0 C631.1,379.0 627.9,374.9 643.0,390.0 C658.1,405.1 657.5,405.4 674.0,415.7 C690.5,426.0 688.5,423.8 705.0,428.6 C721.5,433.4 721.1,431.6 736.0,433.8 C750.9,436.0 750.3,433.6 761.0,437.0 C771.7,440.4 769.4,436.9 776.0,446.7 C782.6,456.5 780.6,460.0 785.8,473.7 C791.0,487.4 789.1,481.0 795.6,498.0 C802.1,515.0 802.7,526.4 810.0,537.6 C817.3,548.8 819.5,539.4 823.0,540.0"/><path d="M-5.0,634.0 C40.1,634.0 97.1,636.7 164.0,634.0 C230.9,631.3 196.7,632.3 246.0,624.0 C295.3,615.7 305.3,611.8 349.0,603.0 C392.7,594.2 382.8,587.8 410.0,591.0 C437.2,594.2 434.5,604.6 451.0,615.0 C467.5,625.4 450.1,626.5 472.0,630.0 C493.9,633.5 495.9,632.0 533.0,628.0 C570.1,624.0 577.1,622.5 611.0,615.0 C644.9,607.5 636.3,609.3 660.0,600.0 C683.7,590.7 686.1,590.7 700.0,580.0 C713.9,569.3 710.1,571.3 712.0,560.0 C713.9,548.7 707.0,548.2 707.0,537.6 C707.0,527.0 706.7,528.3 712.0,520.4 C717.3,512.5 716.9,514.0 726.8,508.0 C736.7,502.0 734.6,501.9 749.0,498.0 C763.4,494.1 768.4,493.4 780.8,493.4 C793.2,493.4 791.7,496.8 795.6,498.0"/><path d="M795.6,498.0 C796.8,509.2 796.2,519.5 800.0,540.0 C803.8,560.5 802.0,559.0 810.0,575.0 C818.0,591.0 818.5,586.7 830.0,600.0 C841.5,613.3 846.9,618.3 853.0,625.0"/><path d="M823.0,540.0 C823.5,546.7 819.7,549.5 825.0,565.0 C830.3,580.5 833.7,584.7 843.0,598.0 C852.3,611.3 850.7,605.1 860.0,615.0 C869.3,624.9 872.5,622.9 878.0,635.0 C883.5,647.1 882.5,645.7 880.5,660.5 C878.5,675.3 874.5,675.9 870.5,690.6 C866.5,705.3 866.1,701.5 865.4,715.7 C864.7,729.9 865.4,724.2 868.0,744.0 C870.6,763.8 871.3,770.3 875.0,790.0 C878.7,809.7 880.1,810.5 882.0,818.0"/><path d="M1446.4,348.6 C1458.2,342.7 1471.0,345.2 1490.6,326.5 C1510.2,307.8 1503.5,299.5 1520.0,278.6 C1536.5,257.7 1534.9,265.7 1552.6,248.0 C1570.3,230.3 1574.5,228.6 1586.5,212.2 C1598.5,195.8 1597.6,201.1 1597.6,186.4 C1597.6,171.7 1597.3,172.7 1586.5,157.0 C1575.7,141.3 1569.4,142.6 1557.0,127.4 C1544.6,112.2 1547.2,118.0 1540.0,100.0 C1532.8,82.0 1532.7,70.7 1530.0,60.0"/><path d="M1374.0,316.7 C1379.3,307.7 1381.5,298.1 1394.0,283.0 C1406.5,267.9 1406.1,272.8 1421.0,260.0 C1435.9,247.2 1436.9,251.0 1450.0,235.0 C1463.1,219.0 1462.0,220.0 1470.0,200.0 C1478.0,180.0 1475.2,181.3 1480.0,160.0 C1484.8,138.7 1484.0,141.3 1488.0,120.0 C1492.0,98.7 1489.1,101.3 1495.0,80.0 C1500.9,58.7 1500.7,62.7 1510.0,40.0 C1519.3,17.3 1524.7,7.0 1530.0,-5.0"/><path d="M1367.7,360.0 C1369.4,348.5 1370.7,332.7 1374.0,316.7 C1377.3,300.7 1373.1,309.8 1380.0,300.0 C1386.9,290.2 1386.7,290.1 1400.0,280.0 C1413.3,269.9 1422.0,266.8 1430.0,262.0"/><path d="M1454.4,498.4 C1466.6,501.0 1476.9,503.6 1500.0,508.0 C1523.1,512.4 1517.6,515.3 1541.0,515.0 C1564.4,514.7 1558.1,513.4 1587.7,506.7 C1617.3,500.0 1616.5,495.3 1652.0,490.0 C1687.5,484.7 1684.8,493.9 1721.0,486.7 C1757.2,479.5 1756.8,473.9 1787.7,463.0 C1818.6,452.1 1823.9,450.5 1837.0,446.0"/><path d="M1174.0,520.0 C1186.3,516.0 1197.1,511.1 1220.0,505.0 C1242.9,498.9 1238.7,499.4 1260.0,497.0 C1281.3,494.6 1277.1,496.5 1300.0,496.0 C1322.9,495.5 1319.3,494.7 1346.0,495.0 C1372.7,495.3 1371.1,496.1 1400.0,497.0 C1428.9,497.9 1439.9,498.0 1454.4,498.4"/><path d="M1310.0,646.0 C1316.7,646.5 1321.7,650.1 1335.0,648.0 C1348.3,645.9 1345.9,642.0 1360.0,638.0 C1374.1,634.0 1371.4,629.8 1387.7,633.0 C1404.0,636.2 1403.3,635.7 1421.0,650.0 C1438.7,664.3 1438.0,669.9 1454.0,686.7 C1470.0,703.5 1463.1,700.7 1481.0,713.0 C1498.9,725.3 1492.5,721.3 1521.0,733.0 C1549.5,744.7 1560.0,745.5 1587.7,756.7 C1615.4,767.9 1605.7,758.7 1625.0,775.0 C1644.3,791.3 1650.7,806.5 1660.0,818.0"/><path d="M1346.0,-5.0 C1345.7,9.7 1345.5,22.0 1345.0,50.0 C1344.5,78.0 1344.5,73.3 1344.0,100.0 C1343.5,126.7 1343.3,123.3 1343.0,150.0 C1342.7,176.7 1341.4,175.7 1343.0,200.0 C1344.6,224.3 1342.7,221.0 1349.0,241.0 C1355.3,261.0 1358.4,256.7 1366.5,275.0 C1374.6,293.3 1377.5,294.8 1379.5,309.5 C1381.5,324.2 1375.5,324.5 1374.0,330.0"/><path d="M1427.0,-5.0 C1426.2,7.0 1426.4,15.7 1424.0,40.0 C1421.6,64.3 1424.1,62.3 1418.0,86.0 C1411.9,109.7 1412.5,108.5 1401.0,129.0 C1389.5,149.5 1391.0,147.0 1375.0,163.0 C1359.0,179.0 1359.4,175.1 1341.0,189.0 C1322.6,202.9 1326.8,201.1 1306.0,215.0 C1285.2,228.9 1283.5,229.5 1263.0,241.0 C1242.5,252.5 1245.8,248.9 1229.0,258.0 C1212.2,267.1 1221.1,263.8 1200.0,275.0 C1178.9,286.2 1176.7,288.5 1150.0,300.0 C1123.3,311.5 1124.0,308.7 1100.0,318.0 C1076.0,327.3 1081.3,326.5 1060.0,335.0 C1038.7,343.5 1030.7,346.0 1020.0,350.0"/><path d="M1380.0,304.0 C1389.8,294.3 1401.2,282.7 1416.9,267.5 C1432.6,252.3 1424.3,259.8 1439.0,247.0 C1453.7,234.2 1455.3,233.7 1472.0,219.5 C1488.7,205.3 1482.0,203.5 1501.7,193.7 C1521.4,183.9 1520.4,182.7 1546.0,182.7 C1571.6,182.7 1558.3,192.7 1597.6,193.7 C1636.9,194.7 1653.1,190.3 1693.4,186.4 C1733.7,182.5 1710.4,182.0 1748.7,179.0 C1787.0,176.0 1813.5,176.1 1837.0,175.0"/></g>
<g stroke="#ffffff" stroke-width="4.6"><path d="M-5.0,556.0 C7.3,554.4 19.4,555.2 41.0,550.0 C62.6,544.8 57.6,544.6 76.0,536.6 C94.4,528.6 92.1,529.5 110.0,520.0 C127.9,510.5 119.0,517.0 143.0,501.0 C167.0,485.0 177.6,476.3 200.0,460.0 C222.4,443.7 213.7,447.5 227.0,440.0 C240.3,432.5 243.9,434.1 250.0,432.0"/><path d="M600.0,830.0 C611.2,823.9 613.2,826.7 642.0,807.0 C670.8,787.3 678.1,783.2 708.0,756.0 C737.9,728.8 736.4,734.9 754.0,705.0 C771.6,675.1 760.4,665.6 774.0,644.0 C787.6,622.4 786.1,630.7 805.0,624.0 C823.9,617.3 827.4,627.3 845.0,619.0 C862.6,610.7 858.9,603.4 871.0,593.0 C883.1,582.6 879.9,588.8 890.5,580.0 C901.1,571.2 899.9,568.7 910.6,560.0 C921.3,551.3 921.5,554.2 930.7,547.5 C939.9,540.8 935.9,539.7 945.0,535.0 C954.1,530.3 954.3,528.7 965.0,530.0 C975.7,531.3 979.7,537.3 985.0,540.0"/><path d="M1331.0,337.0 C1344.1,337.1 1356.3,335.4 1380.0,337.5 C1403.7,339.6 1402.3,342.0 1420.0,345.0 C1437.7,348.0 1439.4,347.6 1446.4,348.6"/><path d="M1331.0,337.0 C1322.7,339.1 1316.3,341.5 1300.0,345.0 C1283.7,348.5 1288.7,348.1 1270.0,350.0 C1251.3,351.9 1251.3,352.0 1230.0,352.0 C1208.7,352.0 1211.3,353.2 1190.0,350.0 C1168.7,346.8 1171.3,345.3 1150.0,340.0 C1128.7,334.7 1127.3,334.0 1110.0,330.0 C1092.7,326.0 1091.7,326.3 1085.0,325.0"/><path d="M1471.0,480.0 C1484.1,463.8 1493.1,452.5 1520.0,419.4 C1546.9,386.3 1544.1,388.6 1571.7,356.0 C1599.3,323.4 1599.9,323.6 1623.4,297.0 C1646.9,270.4 1638.4,277.0 1660.0,256.4 C1681.6,235.8 1680.8,238.3 1704.5,219.6 C1728.2,200.9 1725.9,205.0 1748.7,186.4 C1771.5,167.8 1766.5,168.8 1790.0,150.0 C1813.5,131.2 1824.5,125.1 1837.0,116.0"/></g>
<g stroke="#ffffff" stroke-width="7.0"><path d="M300.0,-5.0 C299.2,4.3 298.9,12.7 297.0,30.0 C295.1,47.3 297.5,46.7 293.0,60.0 C288.5,73.3 288.3,72.0 280.0,80.0 C271.7,88.0 270.8,85.5 262.0,90.0 C253.2,94.5 254.7,89.8 247.0,97.0 C239.3,104.2 238.3,107.4 233.0,117.0 C227.7,126.6 232.6,124.2 227.0,133.0 C221.4,141.8 219.2,140.9 212.0,150.0 C204.8,159.1 206.4,156.3 200.0,167.0 C193.6,177.7 193.3,179.3 188.0,190.0 C182.7,200.7 184.8,196.3 180.0,207.0 C175.2,217.7 176.1,216.7 170.0,230.0 C163.9,243.3 165.0,241.0 157.0,257.0 C149.0,273.0 148.0,272.4 140.0,290.0 C132.0,307.6 131.5,303.5 127.0,323.0 C122.5,342.5 123.5,343.3 123.0,363.0 C122.5,382.7 122.3,377.3 125.0,397.0 C127.7,416.7 130.3,419.4 133.0,437.0 C135.7,454.6 137.1,448.9 135.0,463.0 C132.9,477.1 130.3,477.5 125.0,490.0 C119.7,502.5 119.5,500.7 115.0,510.0 C110.5,519.3 109.3,511.1 108.0,525.0 C106.7,538.9 108.1,530.3 110.0,562.0 C111.9,593.7 113.1,600.3 115.0,644.0 C116.9,687.7 114.9,679.6 117.0,726.0 C119.1,772.4 121.4,793.5 123.0,818.0"/><path d="M-5.0,248.0 C14.2,247.7 39.0,247.0 67.0,247.0 C95.0,247.0 82.4,246.4 100.0,248.0 C117.6,249.6 113.5,247.1 133.0,253.0 C152.5,258.9 155.1,260.9 173.0,270.0 C190.9,279.1 188.3,277.1 200.0,287.0 C211.7,296.9 208.2,293.7 217.0,307.0 C225.8,320.3 223.4,320.2 233.0,337.0 C242.6,353.8 246.3,355.9 253.0,370.0 C259.7,384.1 257.5,377.5 258.0,390.0 C258.5,402.5 257.1,405.8 255.0,417.0 C252.9,428.2 246.8,425.9 250.0,432.0 C253.2,438.1 253.7,434.4 267.0,440.0 C280.3,445.6 282.4,445.0 300.0,453.0 C317.6,461.0 318.9,459.3 333.0,470.0 C347.1,480.7 342.6,482.3 353.0,493.0 C363.4,503.7 362.7,502.5 372.0,510.0 C381.3,517.5 375.2,515.1 388.0,521.0 C400.8,526.9 403.2,526.5 420.0,532.0 C436.8,537.5 432.3,535.9 451.0,541.5 C469.7,547.1 473.5,549.1 490.0,553.0 C506.5,556.9 498.1,557.9 513.0,556.0 C527.9,554.1 531.9,556.1 546.0,545.7 C560.1,535.3 558.3,527.9 566.0,517.0 C573.7,506.1 568.6,508.7 575.0,505.0 C581.4,501.3 579.6,515.9 590.0,503.0 C600.4,490.1 601.2,466.9 614.0,456.5 C626.8,446.1 624.9,465.3 638.0,464.0 C651.1,462.7 649.8,457.5 663.0,451.6 C676.2,445.7 674.4,447.0 687.5,441.8 C700.6,436.6 698.9,434.6 712.0,432.0 C725.1,429.4 723.5,430.7 736.6,432.0 C749.7,433.3 754.5,435.7 761.0,437.0"/><path d="M1710.0,240.0 C1708.1,232.0 1707.4,224.3 1703.0,210.0 C1698.6,195.7 1699.5,202.4 1693.4,186.4 C1687.3,170.4 1687.8,167.7 1680.0,150.0 C1672.2,132.3 1673.3,141.3 1664.0,120.0 C1654.7,98.7 1655.4,94.0 1645.0,70.0 C1634.6,46.0 1633.8,50.0 1625.0,30.0 C1616.2,10.0 1615.5,4.3 1612.0,-5.0"/><path d="M1710.0,240.0 C1711.5,252.3 1712.0,259.1 1715.5,286.0 C1719.0,312.9 1718.1,305.5 1723.0,341.0 C1727.9,376.5 1729.2,387.3 1734.0,419.0 C1738.8,450.7 1738.3,438.4 1741.0,460.0 C1743.7,481.6 1739.5,480.5 1744.0,500.0 C1748.5,519.5 1753.7,506.3 1757.7,533.0 C1761.7,559.7 1761.7,571.5 1759.0,600.0 C1756.3,628.5 1757.8,616.9 1747.7,640.0 C1737.6,663.1 1737.0,661.9 1721.0,686.7 C1705.0,711.5 1702.9,710.6 1687.7,733.0 C1672.5,755.4 1675.4,748.0 1664.0,770.7 C1652.6,793.4 1650.1,805.4 1645.0,818.0"/></g>
<g clip-path="url(#dc)">
<g stroke="#d6d6d4" stroke-width="4.2"><path d="M798.0,0.0 C801.7,10.7 803.5,16.0 812.0,40.0 C820.5,64.0 819.9,63.3 830.0,90.0 C840.1,116.7 839.3,110.7 850.0,140.0 C860.7,169.3 860.7,170.7 870.0,200.0 C879.3,229.3 877.0,223.3 885.0,250.0 C893.0,276.7 892.0,274.7 900.0,300.0 C908.0,325.3 911.0,333.0 915.0,345.0"/><path d="M700.0,97.0 C710.7,108.5 718.7,116.5 740.0,140.0 C761.3,163.5 758.7,161.0 780.0,185.0 C801.3,209.0 801.3,207.3 820.0,230.0 C838.7,252.7 834.0,248.7 850.0,270.0 C866.0,291.3 862.7,290.0 880.0,310.0 C897.3,330.0 905.7,335.7 915.0,345.0"/><path d="M625.0,190.0 C634.3,196.7 640.0,201.7 660.0,215.0 C680.0,228.3 678.7,227.5 700.0,240.0 C721.3,252.5 718.7,248.7 740.0,262.0 C761.3,275.3 758.7,274.5 780.0,290.0 C801.3,305.5 798.7,305.3 820.0,320.0 C841.3,334.7 838.7,333.0 860.0,345.0 C881.3,357.0 876.0,351.7 900.0,365.0 C924.0,378.3 936.7,387.0 950.0,395.0"/><path d="M915.0,345.0 C915.0,359.7 915.0,374.7 915.0,400.0 C915.0,425.3 915.0,413.3 915.0,440.0 C915.0,466.7 915.0,484.0 915.0,500.0"/><path d="M935.0,0.0 C935.0,26.7 935.0,46.7 935.0,100.0 C935.0,153.3 935.0,146.7 935.0,200.0 C935.0,253.3 935.0,261.3 935.0,300.0 C935.0,338.7 935.0,307.7 935.0,345.0 C935.0,382.3 935.0,414.7 935.0,440.0"/><path d="M962.0,0.0 C962.0,32.0 962.0,58.7 962.0,120.0 C962.0,181.3 962.0,170.0 962.0,230.0 C962.0,290.0 962.0,314.3 962.0,345.0"/><path d="M993.0,60.0 C997.5,70.7 1000.1,76.0 1010.0,100.0 C1019.9,124.0 1019.3,123.3 1030.0,150.0 C1040.7,176.7 1038.0,170.7 1050.0,200.0 C1062.0,229.3 1068.3,244.0 1075.0,260.0"/><path d="M1000.0,180.0 C1010.7,189.3 1016.0,193.7 1040.0,215.0 C1064.0,236.3 1063.3,237.3 1090.0,260.0 C1116.7,282.7 1113.3,278.7 1140.0,300.0 C1166.7,321.3 1163.3,318.7 1190.0,340.0 C1216.7,361.3 1226.7,369.3 1240.0,380.0"/><path d="M960.0,420.0 C973.3,413.3 983.3,408.9 1010.0,395.0 C1036.7,381.1 1033.3,382.7 1060.0,368.0 C1086.7,353.3 1083.3,355.5 1110.0,340.0 C1136.7,324.5 1132.0,327.3 1160.0,310.0 C1188.0,292.7 1188.3,291.0 1215.0,275.0 C1241.7,259.0 1248.0,256.7 1260.0,250.0"/><path d="M1000.0,440.0 C1016.0,440.0 1028.0,440.0 1060.0,440.0 C1092.0,440.0 1088.5,440.0 1120.0,440.0 C1151.5,440.0 1162.5,440.0 1178.0,440.0"/><path d="M915.0,470.0 C932.3,470.0 946.7,470.0 980.0,470.0 C1013.3,470.0 1005.3,470.0 1040.0,470.0 C1074.7,470.0 1073.2,470.0 1110.0,470.0 C1146.8,470.0 1159.9,470.0 1178.0,470.0"/><path d="M880.0,497.0 C896.0,497.0 908.0,497.0 940.0,497.0 C972.0,497.0 984.0,497.0 1000.0,497.0"/><path d="M1245.0,600.0 C1246.3,606.7 1247.3,609.0 1250.0,625.0 C1252.7,641.0 1252.9,640.0 1255.0,660.0 C1257.1,680.0 1256.1,681.3 1258.0,700.0 C1259.9,718.7 1260.9,722.0 1262.0,730.0"/><path d="M1178.0,470.0 C1191.9,470.0 1200.1,470.0 1230.0,470.0 C1259.9,470.0 1259.1,463.3 1290.0,470.0 C1320.9,476.7 1331.1,488.3 1346.0,495.0"/><path d="M1085.0,325.0 C1075.7,326.3 1070.0,326.0 1050.0,330.0 C1030.0,334.0 1028.7,334.7 1010.0,340.0 C991.3,345.3 988.0,347.3 980.0,350.0"/><path d="M1240.0,380.0 C1253.3,390.7 1261.7,400.0 1290.0,420.0 C1318.3,440.0 1316.7,439.0 1346.0,455.0 C1375.3,471.0 1371.2,468.5 1400.0,480.0 C1428.8,491.5 1439.6,493.2 1454.0,498.0"/><path d="M1021.0,545.0 C1023.4,551.7 1023.6,556.7 1030.0,570.0 C1036.4,583.3 1037.5,585.7 1045.0,595.0 C1052.5,604.3 1054.5,602.3 1058.0,605.0"/><path d="M1095.5,654.0 C1102.0,660.9 1102.8,667.7 1120.0,680.0 C1137.2,692.3 1138.7,690.7 1160.0,700.0 C1181.3,709.3 1177.9,712.3 1200.0,715.0 C1222.1,717.7 1225.4,709.9 1243.0,710.0 C1260.6,710.1 1259.9,714.0 1266.0,715.5"/><path d="M1230.0,640.0 C1235.3,629.3 1240.7,621.3 1250.0,600.0 C1259.3,578.7 1257.0,581.3 1265.0,560.0 C1273.0,538.7 1270.7,541.3 1280.0,520.0 C1289.3,498.7 1288.0,501.3 1300.0,480.0 C1312.0,458.7 1313.0,461.3 1325.0,440.0 C1337.0,418.7 1335.7,418.7 1345.0,400.0 C1354.3,381.3 1353.9,380.7 1360.0,370.0 C1366.1,359.3 1365.6,362.7 1367.7,360.0"/></g>
<g stroke="#d6d6d4" stroke-width="5.4"><path d="M1000.0,440.0 C1010.7,448.0 1016.0,452.7 1040.0,470.0 C1064.0,487.3 1063.3,486.3 1090.0,505.0 C1116.7,523.7 1116.0,520.5 1140.0,540.0 C1164.0,559.5 1160.0,562.8 1180.0,578.0 C1200.0,593.2 1196.3,587.1 1215.0,597.0 C1233.7,606.9 1230.0,604.6 1250.0,615.0 C1270.0,625.4 1274.0,627.7 1290.0,636.0 C1306.0,644.3 1304.7,643.3 1310.0,646.0"/><path d="M985.0,540.0 C997.0,541.3 1004.7,542.9 1030.0,545.0 C1055.3,547.1 1053.3,546.1 1080.0,548.0 C1106.7,549.9 1104.7,548.8 1130.0,552.0 C1155.3,555.2 1157.7,553.9 1175.0,560.0 C1192.3,566.1 1184.3,564.3 1195.0,575.0 C1205.7,585.7 1205.7,582.7 1215.0,600.0 C1224.3,617.3 1226.0,629.3 1230.0,640.0"/><path d="M1058.0,605.0 C1059.6,610.3 1061.9,615.7 1064.0,625.0 C1066.1,634.3 1066.8,627.5 1066.0,640.0 C1065.2,652.5 1065.8,653.3 1061.0,672.0 C1056.2,690.7 1053.3,689.2 1048.0,710.0 C1042.7,730.8 1043.7,729.7 1041.0,750.0 C1038.3,770.3 1038.0,767.9 1038.0,786.0 C1038.0,804.1 1040.2,809.5 1041.0,818.0"/></g>
<g stroke="#fdfdfc" stroke-width="2.2"><path d="M798.0,0.0 C801.7,10.7 803.5,16.0 812.0,40.0 C820.5,64.0 819.9,63.3 830.0,90.0 C840.1,116.7 839.3,110.7 850.0,140.0 C860.7,169.3 860.7,170.7 870.0,200.0 C879.3,229.3 877.0,223.3 885.0,250.0 C893.0,276.7 892.0,274.7 900.0,300.0 C908.0,325.3 911.0,333.0 915.0,345.0"/><path d="M700.0,97.0 C710.7,108.5 718.7,116.5 740.0,140.0 C761.3,163.5 758.7,161.0 780.0,185.0 C801.3,209.0 801.3,207.3 820.0,230.0 C838.7,252.7 834.0,248.7 850.0,270.0 C866.0,291.3 862.7,290.0 880.0,310.0 C897.3,330.0 905.7,335.7 915.0,345.0"/><path d="M625.0,190.0 C634.3,196.7 640.0,201.7 660.0,215.0 C680.0,228.3 678.7,227.5 700.0,240.0 C721.3,252.5 718.7,248.7 740.0,262.0 C761.3,275.3 758.7,274.5 780.0,290.0 C801.3,305.5 798.7,305.3 820.0,320.0 C841.3,334.7 838.7,333.0 860.0,345.0 C881.3,357.0 876.0,351.7 900.0,365.0 C924.0,378.3 936.7,387.0 950.0,395.0"/><path d="M915.0,345.0 C915.0,359.7 915.0,374.7 915.0,400.0 C915.0,425.3 915.0,413.3 915.0,440.0 C915.0,466.7 915.0,484.0 915.0,500.0"/><path d="M935.0,0.0 C935.0,26.7 935.0,46.7 935.0,100.0 C935.0,153.3 935.0,146.7 935.0,200.0 C935.0,253.3 935.0,261.3 935.0,300.0 C935.0,338.7 935.0,307.7 935.0,345.0 C935.0,382.3 935.0,414.7 935.0,440.0"/><path d="M962.0,0.0 C962.0,32.0 962.0,58.7 962.0,120.0 C962.0,181.3 962.0,170.0 962.0,230.0 C962.0,290.0 962.0,314.3 962.0,345.0"/><path d="M993.0,60.0 C997.5,70.7 1000.1,76.0 1010.0,100.0 C1019.9,124.0 1019.3,123.3 1030.0,150.0 C1040.7,176.7 1038.0,170.7 1050.0,200.0 C1062.0,229.3 1068.3,244.0 1075.0,260.0"/><path d="M1000.0,180.0 C1010.7,189.3 1016.0,193.7 1040.0,215.0 C1064.0,236.3 1063.3,237.3 1090.0,260.0 C1116.7,282.7 1113.3,278.7 1140.0,300.0 C1166.7,321.3 1163.3,318.7 1190.0,340.0 C1216.7,361.3 1226.7,369.3 1240.0,380.0"/><path d="M960.0,420.0 C973.3,413.3 983.3,408.9 1010.0,395.0 C1036.7,381.1 1033.3,382.7 1060.0,368.0 C1086.7,353.3 1083.3,355.5 1110.0,340.0 C1136.7,324.5 1132.0,327.3 1160.0,310.0 C1188.0,292.7 1188.3,291.0 1215.0,275.0 C1241.7,259.0 1248.0,256.7 1260.0,250.0"/><path d="M1000.0,440.0 C1016.0,440.0 1028.0,440.0 1060.0,440.0 C1092.0,440.0 1088.5,440.0 1120.0,440.0 C1151.5,440.0 1162.5,440.0 1178.0,440.0"/><path d="M915.0,470.0 C932.3,470.0 946.7,470.0 980.0,470.0 C1013.3,470.0 1005.3,470.0 1040.0,470.0 C1074.7,470.0 1073.2,470.0 1110.0,470.0 C1146.8,470.0 1159.9,470.0 1178.0,470.0"/><path d="M880.0,497.0 C896.0,497.0 908.0,497.0 940.0,497.0 C972.0,497.0 984.0,497.0 1000.0,497.0"/><path d="M1245.0,600.0 C1246.3,606.7 1247.3,609.0 1250.0,625.0 C1252.7,641.0 1252.9,640.0 1255.0,660.0 C1257.1,680.0 1256.1,681.3 1258.0,700.0 C1259.9,718.7 1260.9,722.0 1262.0,730.0"/><path d="M1178.0,470.0 C1191.9,470.0 1200.1,470.0 1230.0,470.0 C1259.9,470.0 1259.1,463.3 1290.0,470.0 C1320.9,476.7 1331.1,488.3 1346.0,495.0"/><path d="M1085.0,325.0 C1075.7,326.3 1070.0,326.0 1050.0,330.0 C1030.0,334.0 1028.7,334.7 1010.0,340.0 C991.3,345.3 988.0,347.3 980.0,350.0"/><path d="M1240.0,380.0 C1253.3,390.7 1261.7,400.0 1290.0,420.0 C1318.3,440.0 1316.7,439.0 1346.0,455.0 C1375.3,471.0 1371.2,468.5 1400.0,480.0 C1428.8,491.5 1439.6,493.2 1454.0,498.0"/><path d="M1021.0,545.0 C1023.4,551.7 1023.6,556.7 1030.0,570.0 C1036.4,583.3 1037.5,585.7 1045.0,595.0 C1052.5,604.3 1054.5,602.3 1058.0,605.0"/><path d="M1095.5,654.0 C1102.0,660.9 1102.8,667.7 1120.0,680.0 C1137.2,692.3 1138.7,690.7 1160.0,700.0 C1181.3,709.3 1177.9,712.3 1200.0,715.0 C1222.1,717.7 1225.4,709.9 1243.0,710.0 C1260.6,710.1 1259.9,714.0 1266.0,715.5"/><path d="M1230.0,640.0 C1235.3,629.3 1240.7,621.3 1250.0,600.0 C1259.3,578.7 1257.0,581.3 1265.0,560.0 C1273.0,538.7 1270.7,541.3 1280.0,520.0 C1289.3,498.7 1288.0,501.3 1300.0,480.0 C1312.0,458.7 1313.0,461.3 1325.0,440.0 C1337.0,418.7 1335.7,418.7 1345.0,400.0 C1354.3,381.3 1353.9,380.7 1360.0,370.0 C1366.1,359.3 1365.6,362.7 1367.7,360.0"/></g>
<g stroke="#fdfdfc" stroke-width="3.0"><path d="M1000.0,440.0 C1010.7,448.0 1016.0,452.7 1040.0,470.0 C1064.0,487.3 1063.3,486.3 1090.0,505.0 C1116.7,523.7 1116.0,520.5 1140.0,540.0 C1164.0,559.5 1160.0,562.8 1180.0,578.0 C1200.0,593.2 1196.3,587.1 1215.0,597.0 C1233.7,606.9 1230.0,604.6 1250.0,615.0 C1270.0,625.4 1274.0,627.7 1290.0,636.0 C1306.0,644.3 1304.7,643.3 1310.0,646.0"/><path d="M985.0,540.0 C997.0,541.3 1004.7,542.9 1030.0,545.0 C1055.3,547.1 1053.3,546.1 1080.0,548.0 C1106.7,549.9 1104.7,548.8 1130.0,552.0 C1155.3,555.2 1157.7,553.9 1175.0,560.0 C1192.3,566.1 1184.3,564.3 1195.0,575.0 C1205.7,585.7 1205.7,582.7 1215.0,600.0 C1224.3,617.3 1226.0,629.3 1230.0,640.0"/><path d="M1058.0,605.0 C1059.6,610.3 1061.9,615.7 1064.0,625.0 C1066.1,634.3 1066.8,627.5 1066.0,640.0 C1065.2,652.5 1065.8,653.3 1061.0,672.0 C1056.2,690.7 1053.3,689.2 1048.0,710.0 C1042.7,730.8 1043.7,729.7 1041.0,750.0 C1038.3,770.3 1038.0,767.9 1038.0,786.0 C1038.0,804.1 1040.2,809.5 1041.0,818.0"/></g>
</g>
<g stroke="#e8c2c9" stroke-width="1.2" stroke-dasharray="3.5 4"><path d="M546.7,250.0 L500.0,300.0 L440.0,362.0 L333.0,468.0 L323.0,478.0"/><path d="M227.0,447.0 L240.0,457.0 L323.0,478.0 L345.0,501.0"/><path d="M240.0,478.0 L233.0,501.0"/><path d="M238.0,480.0 L228.0,521.0 L246.0,560.0"/><path d="M324.0,480.0 L410.0,562.0 L492.0,644.0 L560.0,715.0 L595.0,751.0 L620.0,770.0"/><path d="M304.0,558.0 L345.0,575.0 L386.0,591.0"/><path d="M620.0,770.0 L580.0,780.0 L540.0,785.0 L525.0,800.0 L510.0,818.0"/>
<path d="M553,245 L798,0 M993,0 L1473,480 L1139,814" stroke="#cfa8ae" stroke-opacity=".7"/>
</g></g>
<g class="lh">
<text x="333.3" y="28.7" font-size="13.6" textLength="77.4" lengthAdjust="spacingAndGlyphs">Cabin John</text>
<text x="423.3" y="58.0" font-size="13.6" textLength="69.0" lengthAdjust="spacingAndGlyphs">Glen Echo</text>
<text x="513.3" y="193.7" font-size="13.6" textLength="79.0" lengthAdjust="spacingAndGlyphs">Brookmont</text>
<text x="270.0" y="257.8" font-size="18.0" textLength="67.3" lengthAdjust="spacingAndGlyphs">McLean</text>
<text x="38.0" y="346.6" font-size="18.0" textLength="60.0" lengthAdjust="spacingAndGlyphs">Tysons</text>
<text x="160.7" y="376.4" font-size="13.6" textLength="82.0" lengthAdjust="spacingAndGlyphs">Pimmit Hills</text>
<text x="122.3" y="475.4" font-size="13.6" textLength="63.7" lengthAdjust="spacingAndGlyphs">Idylwood</text>
<text x="279.0" y="549.7" font-size="18.0" textLength="106.0" lengthAdjust="spacingAndGlyphs">Falls Church</text>
<text x="54.6" y="590.6" font-size="13.6" textLength="65.2" lengthAdjust="spacingAndGlyphs">Merrifield</text>
<text x="352.0" y="606.6" font-size="13.6" textLength="97.3" lengthAdjust="spacingAndGlyphs">Seven Corners</text>
<text x="166.2" y="637.3" font-size="13.6" textLength="121.8" lengthAdjust="spacingAndGlyphs">West Falls Church</text>
<text x="47.2" y="703.0" font-size="13.6" textLength="74.7" lengthAdjust="spacingAndGlyphs">Woodburn</text>
<text x="430.9" y="729.0" font-size="18.0" textLength="164.1" lengthAdjust="spacingAndGlyphs">Bailey&#39;s Crossroads</text>
<text x="2.0" y="816.3" font-size="13.6" textLength="67.8" lengthAdjust="spacingAndGlyphs">Wakefield</text>
<text x="649.2" y="504.6" font-size="18.6" textLength="128.1" lengthAdjust="spacingAndGlyphs">ARLINGTON</text>
<text x="833.7" y="480.0" font-size="22.0" textLength="179.3" lengthAdjust="spacingAndGlyphs">WASHINGTON</text>
<text x="1086.3" y="92.2" font-size="18.0" textLength="68.3" lengthAdjust="spacingAndGlyphs">Chillum</text>
<text x="982.0" y="12.4" font-size="18.0" textLength="122.4" lengthAdjust="spacingAndGlyphs">Takoma Park</text>
<text x="1282.7" y="53.0" font-size="13.6" textLength="101.0" lengthAdjust="spacingAndGlyphs">University Park</text>
<text x="1540.0" y="58.4" font-size="18.0" textLength="130.0" lengthAdjust="spacingAndGlyphs">New Carrollton</text>
<text x="1325.3" y="105.1" font-size="18.0" textLength="124.7" lengthAdjust="spacingAndGlyphs">Riverdale Park</text>
<text x="1267.7" y="154.9" font-size="22.0" textLength="144.3" lengthAdjust="spacingAndGlyphs">HYATTSVILLE</text>
<text x="1516.0" y="169.7" font-size="13.6" textLength="76.0" lengthAdjust="spacingAndGlyphs">Woodlawn</text>
<text x="1338.3" y="183.7" font-size="13.6" textLength="79.4" lengthAdjust="spacingAndGlyphs">Edmonston</text>
<text x="1502.7" y="205.7" font-size="13.6" textLength="95.6" lengthAdjust="spacingAndGlyphs">Landover Hills</text>
<text x="1314.3" y="229.4" font-size="18.0" textLength="110.7" lengthAdjust="spacingAndGlyphs">Bladensburg</text>
<text x="1746.0" y="237.0" font-size="13.6" textLength="75.0" lengthAdjust="spacingAndGlyphs">Springdale</text>
<text x="1492.7" y="259.4" font-size="18.0" textLength="79.0" lengthAdjust="spacingAndGlyphs">Landover</text>
<text x="1247.7" y="271.2" font-size="13.6" textLength="98.3" lengthAdjust="spacingAndGlyphs">Colmar Manor</text>
<text x="1417.7" y="289.7" font-size="13.6" textLength="59.3" lengthAdjust="spacingAndGlyphs">Cheverly</text>
<text x="1648.3" y="284.0" font-size="13.6" textLength="71.7" lengthAdjust="spacingAndGlyphs">Glenarden</text>
<text x="1433.3" y="433.7" font-size="13.6" textLength="96.0" lengthAdjust="spacingAndGlyphs">Cedar Heights</text>
<text x="1511.0" y="481.7" font-size="13.6" textLength="125.0" lengthAdjust="spacingAndGlyphs">Peppermill Village</text>
<text x="1787.0" y="404.0" font-size="13.6" textLength="75.0" lengthAdjust="spacingAndGlyphs">Lake Arbor</text>
<text x="1405.0" y="533.0" font-size="13.6" textLength="105.0" lengthAdjust="spacingAndGlyphs">Capitol Heights</text>
<text x="1529.3" y="586.4" font-size="13.6" textLength="76.0" lengthAdjust="spacingAndGlyphs">Walker Mill</text>
<text x="1388.3" y="613.7" font-size="13.6" textLength="68.4" lengthAdjust="spacingAndGlyphs">Coral Hills</text>
<text x="1546.0" y="660.4" font-size="13.6" textLength="103.3" lengthAdjust="spacingAndGlyphs">District Heights</text>
<text x="1377.0" y="737.8" font-size="18.0" textLength="71.7" lengthAdjust="spacingAndGlyphs">Suitland</text>
<text x="1583.3" y="758.4" font-size="18.0" textLength="86.7" lengthAdjust="spacingAndGlyphs">Forestville</text>
<text x="1798.7" y="554.4" font-size="18.0" textLength="50.3" lengthAdjust="spacingAndGlyphs">Largo</text>
<text x="1284.3" y="773.0" font-size="13.6" textLength="62.7" lengthAdjust="spacingAndGlyphs">Silver Hill</text>
<text x="655.0" y="80.9" font-size="13.6" textLength="78.0" lengthAdjust="spacingAndGlyphs">Friendship</text>
<text x="640.0" y="97.9" font-size="13.6" textLength="108.0" lengthAdjust="spacingAndGlyphs">Heights Village</text>
<text x="669.0" y="49.3" font-size="13.6" textLength="83.0" lengthAdjust="spacingAndGlyphs">Chevy Chase</text>
</g>
<g class="lf">
<text x="333.3" y="28.7" font-size="13.6" textLength="77.4" lengthAdjust="spacingAndGlyphs">Cabin John</text>
<text x="423.3" y="58.0" font-size="13.6" textLength="69.0" lengthAdjust="spacingAndGlyphs">Glen Echo</text>
<text x="513.3" y="193.7" font-size="13.6" textLength="79.0" lengthAdjust="spacingAndGlyphs">Brookmont</text>
<text x="270.0" y="257.8" font-size="18.0" textLength="67.3" lengthAdjust="spacingAndGlyphs">McLean</text>
<text x="38.0" y="346.6" font-size="18.0" textLength="60.0" lengthAdjust="spacingAndGlyphs">Tysons</text>
<text x="160.7" y="376.4" font-size="13.6" textLength="82.0" lengthAdjust="spacingAndGlyphs">Pimmit Hills</text>
<text x="122.3" y="475.4" font-size="13.6" textLength="63.7" lengthAdjust="spacingAndGlyphs">Idylwood</text>
<text x="279.0" y="549.7" font-size="18.0" textLength="106.0" lengthAdjust="spacingAndGlyphs">Falls Church</text>
<text x="54.6" y="590.6" font-size="13.6" textLength="65.2" lengthAdjust="spacingAndGlyphs">Merrifield</text>
<text x="352.0" y="606.6" font-size="13.6" textLength="97.3" lengthAdjust="spacingAndGlyphs">Seven Corners</text>
<text x="166.2" y="637.3" font-size="13.6" textLength="121.8" lengthAdjust="spacingAndGlyphs">West Falls Church</text>
<text x="47.2" y="703.0" font-size="13.6" textLength="74.7" lengthAdjust="spacingAndGlyphs">Woodburn</text>
<text x="430.9" y="729.0" font-size="18.0" textLength="164.1" lengthAdjust="spacingAndGlyphs">Bailey&#39;s Crossroads</text>
<text x="2.0" y="816.3" font-size="13.6" textLength="67.8" lengthAdjust="spacingAndGlyphs">Wakefield</text>
<text x="649.2" y="504.6" font-size="18.6" textLength="128.1" lengthAdjust="spacingAndGlyphs">ARLINGTON</text>
<text x="833.7" y="480.0" font-size="22.0" textLength="179.3" lengthAdjust="spacingAndGlyphs" stroke-width="1.2">WASHINGTON</text>
<text x="1086.3" y="92.2" font-size="18.0" textLength="68.3" lengthAdjust="spacingAndGlyphs">Chillum</text>
<text x="982.0" y="12.4" font-size="18.0" textLength="122.4" lengthAdjust="spacingAndGlyphs">Takoma Park</text>
<text x="1282.7" y="53.0" font-size="13.6" textLength="101.0" lengthAdjust="spacingAndGlyphs">University Park</text>
<text x="1540.0" y="58.4" font-size="18.0" textLength="130.0" lengthAdjust="spacingAndGlyphs">New Carrollton</text>
<text x="1325.3" y="105.1" font-size="18.0" textLength="124.7" lengthAdjust="spacingAndGlyphs">Riverdale Park</text>
<text x="1267.7" y="154.9" font-size="22.0" textLength="144.3" lengthAdjust="spacingAndGlyphs" stroke-width="1.2">HYATTSVILLE</text>
<text x="1516.0" y="169.7" font-size="13.6" textLength="76.0" lengthAdjust="spacingAndGlyphs">Woodlawn</text>
<text x="1338.3" y="183.7" font-size="13.6" textLength="79.4" lengthAdjust="spacingAndGlyphs">Edmonston</text>
<text x="1502.7" y="205.7" font-size="13.6" textLength="95.6" lengthAdjust="spacingAndGlyphs">Landover Hills</text>
<text x="1314.3" y="229.4" font-size="18.0" textLength="110.7" lengthAdjust="spacingAndGlyphs">Bladensburg</text>
<text x="1746.0" y="237.0" font-size="13.6" textLength="75.0" lengthAdjust="spacingAndGlyphs">Springdale</text>
<text x="1492.7" y="259.4" font-size="18.0" textLength="79.0" lengthAdjust="spacingAndGlyphs">Landover</text>
<text x="1247.7" y="271.2" font-size="13.6" textLength="98.3" lengthAdjust="spacingAndGlyphs">Colmar Manor</text>
<text x="1417.7" y="289.7" font-size="13.6" textLength="59.3" lengthAdjust="spacingAndGlyphs">Cheverly</text>
<text x="1648.3" y="284.0" font-size="13.6" textLength="71.7" lengthAdjust="spacingAndGlyphs">Glenarden</text>
<text x="1433.3" y="433.7" font-size="13.6" textLength="96.0" lengthAdjust="spacingAndGlyphs">Cedar Heights</text>
<text x="1511.0" y="481.7" font-size="13.6" textLength="125.0" lengthAdjust="spacingAndGlyphs">Peppermill Village</text>
<text x="1787.0" y="404.0" font-size="13.6" textLength="75.0" lengthAdjust="spacingAndGlyphs">Lake Arbor</text>
<text x="1405.0" y="533.0" font-size="13.6" textLength="105.0" lengthAdjust="spacingAndGlyphs">Capitol Heights</text>
<text x="1529.3" y="586.4" font-size="13.6" textLength="76.0" lengthAdjust="spacingAndGlyphs">Walker Mill</text>
<text x="1388.3" y="613.7" font-size="13.6" textLength="68.4" lengthAdjust="spacingAndGlyphs">Coral Hills</text>
<text x="1546.0" y="660.4" font-size="13.6" textLength="103.3" lengthAdjust="spacingAndGlyphs">District Heights</text>
<text x="1377.0" y="737.8" font-size="18.0" textLength="71.7" lengthAdjust="spacingAndGlyphs">Suitland</text>
<text x="1583.3" y="758.4" font-size="18.0" textLength="86.7" lengthAdjust="spacingAndGlyphs">Forestville</text>
<text x="1798.7" y="554.4" font-size="18.0" textLength="50.3" lengthAdjust="spacingAndGlyphs">Largo</text>
<text x="1284.3" y="773.0" font-size="13.6" textLength="62.7" lengthAdjust="spacingAndGlyphs">Silver Hill</text>
<text x="655.0" y="80.9" font-size="13.6" textLength="78.0" lengthAdjust="spacingAndGlyphs">Friendship</text>
<text x="640.0" y="97.9" font-size="13.6" textLength="108.0" lengthAdjust="spacingAndGlyphs">Heights Village</text>
<text x="669.0" y="49.3" font-size="13.6" textLength="83.0" lengthAdjust="spacingAndGlyphs">Chevy Chase</text>
</g>
<g font-family="Liberation Sans,sans-serif" font-style="italic" font-size="14.5" fill="#9fb3bd" stroke="#eef1f2" stroke-width="1.5" paint-order="stroke fill">
<text x="242.0" y="56.0" transform="rotate(2 242.0 56.0)" textLength="81" lengthAdjust="spacing">Potomac River</text>
<text x="561.0" y="262.0" transform="rotate(57 561.0 262.0)" textLength="92" lengthAdjust="spacing">Potomac River</text>
<text x="858.0" y="545.0" transform="rotate(40 858.0 545.0)" textLength="82" lengthAdjust="spacing">Potomac River</text>
<text x="927.0" y="527.0" transform="rotate(53 927.0 527.0)" textLength="117" lengthAdjust="spacing">Washington Channel</text>
</g>
<g id="wards">
<path d="M760.0,38.0 L553.0,245.0 L565.8,273.8 L583.8,299.6 L604.5,325.4 L617.4,348.6 L625.0,366.7 L643.0,384.8 L661.2,402.8 L684.4,418.3 L707.7,427.3 L733.5,428.5 L734.7,410.6 L737.3,390.0 L731.0,369.3 L720.0,344.5 L746.0,347.2 L762.9,348.2 L774.0,347.3 L775.7,342.2 L782.5,337.8 L817.9,337.3 L825.8,334.4 L841.5,329.5 L845.4,329.5 L873.0,338.0 L868.9,325.6 L865.1,310.6 L866.4,298.0 L873.9,293.0 L881.5,285.4 L879.0,272.9 L864.0,263.0 L856.3,255.3 L864.0,245.0 L858.0,238.0 L849.0,227.0 L856.0,200.0 L876.0,180.0 L850.0,120.0 L800.0,62.0Z" fill="#008000" fill-opacity="0.20" stroke="#008000" stroke-opacity="0.3" stroke-width="1"/>
<path d="M798.0,0.0 L993.0,0.0 L1113.0,120.0 L1083.0,120.5 L1068.0,123.0 L1060.4,130.5 L1039.0,133.0 L1038.0,160.7 L1040.0,178.0 L1032.8,190.0 L1017.7,205.0 L1010.0,222.7 L992.6,232.0 L957.0,231.5 L914.0,229.0 L885.0,238.0 L864.0,245.0 L858.0,238.0 L849.0,227.0 L856.0,200.0 L876.0,180.0 L850.0,120.0 L800.0,62.0 L760.0,38.0Z" fill="#00ff00" fill-opacity="0.20" stroke="#00ff00" stroke-opacity="0.3" stroke-width="1"/>
<path d="M1113.0,120.0 L1331.0,338.0 L1317.7,350.0 L1281.0,357.5 L1274.3,383.3 L1261.0,403.3 L1247.7,430.0 L1241.5,456.7 L1178.5,448.0 L1146.0,440.3 L1080.8,406.4 L1062.0,393.0 L1050.7,397.7 L1022.0,404.0 L1016.8,406.4 L1012.4,398.3 L1000.5,372.6 L1000.6,359.0 L1012.4,357.0 L1012.7,330.6 L1021.5,322.0 L1022.8,290.5 L995.0,280.0 L992.6,232.0 L1010.0,222.7 L1017.7,205.0 L1032.8,190.0 L1040.0,178.0 L1038.0,160.7 L1039.0,133.0 L1060.4,130.5 L1068.0,123.0 L1083.0,120.5Z" fill="#008080" fill-opacity="0.20" stroke="#008080" stroke-opacity="0.3" stroke-width="1"/>
<path d="M864.0,245.0 L885.0,238.0 L914.0,229.0 L957.0,231.5 L992.6,232.0 L995.0,280.0 L1022.8,290.5 L1021.5,322.0 L1012.7,330.6 L1012.4,357.0 L1000.6,359.0 L985.0,353.0 L959.4,362.9 L936.8,361.0 L936.8,345.6 L894.5,345.6 L881.0,352.0 L873.0,338.0 L868.9,325.6 L865.1,310.6 L866.4,298.0 L873.9,293.0 L881.5,285.4 L879.0,272.9 L864.0,263.0 L856.3,255.3Z" fill="#808000" fill-opacity="0.20" stroke="#808000" stroke-opacity="0.3" stroke-width="1"/>
<path d="M873.0,338.0 L881.0,352.0 L894.5,345.6 L936.8,345.6 L936.8,361.0 L959.4,362.9 L959.4,386.5 L972.2,388.4 L972.2,410.0 L981.0,425.8 L1014.4,445.4 L1015.6,447.9 L1015.6,485.5 L1036.9,485.5 L1036.9,510.6 L937.7,510.6 L934.0,535.7 L935.7,540.0 L950.8,547.5 L968.4,565.0 L981.0,590.0 L988.5,622.9 L988.5,679.3 L935.7,718.3 L934.5,705.7 L930.7,690.6 L923.2,675.6 L913.0,660.5 L910.6,650.5 L896.0,650.0 L890.5,645.4 L900.6,645.4 L909.4,640.4 L908.0,628.0 L903.0,612.8 L893.0,600.0 L879.0,587.7 L875.5,590.0 L870.5,600.0 L860.4,601.5 L853.0,590.0 L850.4,572.6 L845.4,555.0 L820.0,550.0 L814.0,540.0 L811.0,533.2 L796.0,510.6 L793.6,490.6 L786.0,468.0 L778.5,445.4 L766.0,435.3 L733.5,428.5 L734.7,410.6 L737.3,390.0 L731.0,369.3 L720.0,344.5 L746.0,347.2 L762.9,348.2 L774.0,347.3 L775.7,342.2 L782.5,337.8 L817.9,337.3 L825.8,334.4 L841.5,329.5 L845.4,329.5Z" fill="#ffff00" fill-opacity="0.20" stroke="#ffff00" stroke-opacity="0.3" stroke-width="1"/>
<path d="M959.4,362.9 L985.0,353.0 L1000.6,359.0 L1000.5,372.6 L1012.4,398.3 L1016.8,406.4 L1022.0,404.0 L1050.7,397.7 L1062.0,393.0 L1080.8,406.4 L1146.0,440.3 L1178.5,448.0 L1176.6,477.7 L1187.9,481.4 L1189.0,496.5 L1176.6,499.0 L1177.8,544.0 L1200.4,546.7 L1195.4,560.5 L1174.0,575.6 L1151.7,581.4 L1124.0,597.7 L1106.5,609.0 L1083.9,604.0 L1061.3,605.3 L1051.2,617.8 L1036.2,640.4 L1013.6,660.5 L988.5,679.3 L988.5,622.9 L981.0,590.0 L968.4,565.0 L950.8,547.5 L935.7,540.0 L934.0,535.7 L937.7,510.6 L1036.9,510.6 L1036.9,485.5 L1015.6,485.5 L1015.6,447.9 L1014.4,445.4 L981.0,425.8 L972.2,410.0 L972.2,388.4 L959.4,386.5Z" fill="#00ffff" fill-opacity="0.20" stroke="#00ffff" stroke-opacity="0.3" stroke-width="1"/>
<path d="M1331.0,338.0 L1473.0,480.0 L1243.0,710.0 L1236.7,708.0 L1221.6,685.3 L1211.6,660.0 L1204.0,635.0 L1203.0,610.0 L1203.0,590.6 L1196.7,593.0 L1174.0,575.6 L1195.4,560.5 L1200.4,546.7 L1177.8,544.0 L1176.6,499.0 L1189.0,496.5 L1187.9,481.4 L1176.6,477.7 L1178.5,448.0 L1241.5,456.7 L1247.7,430.0 L1261.0,403.3 L1274.3,383.3 L1281.0,357.5 L1317.7,350.0Z" fill="#0000ff" fill-opacity="0.20" stroke="#0000ff" stroke-opacity="0.3" stroke-width="1"/>
<path d="M1174.0,575.6 L1196.7,593.0 L1203.0,590.6 L1203.0,610.0 L1204.0,635.0 L1211.6,660.0 L1221.6,685.3 L1236.7,708.0 L1243.0,710.0 L1139.0,814.0 L886.4,814.0 L881.4,805.8 L877.7,790.8 L870.0,773.0 L880.2,775.7 L902.8,782.0 L922.9,778.2 L927.9,760.6 L934.0,730.5 L935.7,718.3 L988.5,679.3 L1013.6,660.5 L1036.2,640.4 L1051.2,617.8 L1061.3,605.3 L1083.9,604.0 L1106.5,609.0 L1124.0,597.7 L1151.7,581.4Z" fill="#800080" fill-opacity="0.20" stroke="#800080" stroke-opacity="0.3" stroke-width="1"/>
</g>
<g id="redline" fill="none" stroke-linecap="round" stroke-linejoin="round"><path d="M670.0,-8.0 C671.5,-3.0 672.0,0.7 675.7,10.8 C679.4,20.9 680.2,17.7 684.0,30.0 C687.8,42.3 686.0,38.3 690.0,57.0 C694.0,75.7 693.4,77.9 699.0,100.0 C704.6,122.1 703.5,120.9 711.0,140.0 C718.5,159.1 719.3,161.1 727.0,171.5 C734.7,181.9 733.1,176.6 740.0,179.0 C746.9,181.4 743.4,179.8 752.7,180.5 C762.0,181.2 765.6,180.6 775.0,181.5 C784.4,182.4 781.7,180.4 788.0,184.0 C794.3,187.6 793.5,186.2 798.8,195.0 C804.1,203.8 802.0,203.4 808.0,217.0 C814.0,230.6 814.3,230.8 821.2,246.0 C828.1,261.2 827.2,259.5 834.0,274.0 C840.8,288.5 839.9,285.9 846.8,300.5 C853.7,315.1 853.0,313.5 860.0,328.8 C867.0,344.1 866.0,342.3 873.0,358.0 C880.0,373.7 880.9,374.6 886.2,387.7 C891.5,400.8 888.8,397.6 893.0,407.0 C897.2,416.4 896.7,415.6 902.0,422.8 C907.3,430.0 907.1,429.7 913.0,434.0 C918.9,438.3 917.9,437.4 924.0,439.0 C930.1,440.6 928.3,436.9 935.9,440.0 C943.5,443.1 944.6,447.6 952.6,450.8 C960.6,454.0 958.8,452.3 966.0,452.0 C973.2,451.7 972.8,448.8 979.7,449.6 C986.6,450.4 985.6,451.6 992.0,455.0 C998.4,458.4 998.5,458.6 1003.8,462.2 C1009.1,465.8 1007.1,465.9 1012.0,468.5 C1016.9,471.1 1016.4,471.1 1022.0,471.8 C1027.6,472.5 1028.2,472.8 1033.0,471.0 C1037.8,469.2 1036.6,469.6 1040.0,465.0 C1043.4,460.4 1042.6,461.6 1045.8,453.6 C1049.0,445.6 1048.9,444.3 1052.0,435.0 C1055.1,425.7 1054.6,428.2 1057.6,418.7 C1060.6,409.2 1059.6,409.6 1063.2,399.5 C1066.8,389.4 1067.0,390.2 1071.0,381.0 C1075.0,371.8 1074.9,373.6 1078.3,365.0 C1081.7,356.4 1079.5,359.4 1083.8,348.7 C1088.1,338.0 1090.0,335.8 1094.3,324.9 C1098.6,314.0 1097.5,316.8 1100.0,308.0 C1102.5,299.2 1102.4,300.8 1103.5,292.0 C1104.6,283.2 1105.2,285.0 1104.2,275.0 C1103.2,265.0 1102.0,264.7 1099.8,254.6 C1097.6,244.5 1099.7,250.0 1096.0,237.0 C1092.3,224.0 1090.8,219.5 1086.0,206.0 C1081.2,192.5 1083.0,201.0 1078.0,186.3 C1073.0,171.6 1071.2,165.0 1067.2,150.8 C1063.2,136.6 1065.8,143.7 1063.0,133.0 C1060.2,122.3 1062.0,122.5 1056.7,110.5 C1051.4,98.5 1050.1,98.0 1043.0,88.0 C1035.9,78.0 1036.1,79.9 1030.0,73.0 C1023.9,66.1 1025.3,70.1 1020.0,62.0 C1014.7,53.9 1016.0,54.6 1010.0,42.7 C1004.0,30.8 1003.4,30.5 997.5,17.5 C991.6,4.5 990.5,0.3 988.0,-6.0" stroke="#c2102c" stroke-width="7.5"/><path d="M670.0,-8.0 C671.5,-3.0 672.0,0.7 675.7,10.8 C679.4,20.9 680.2,17.7 684.0,30.0 C687.8,42.3 686.0,38.3 690.0,57.0 C694.0,75.7 693.4,77.9 699.0,100.0 C704.6,122.1 703.5,120.9 711.0,140.0 C718.5,159.1 719.3,161.1 727.0,171.5 C734.7,181.9 733.1,176.6 740.0,179.0 C746.9,181.4 743.4,179.8 752.7,180.5 C762.0,181.2 765.6,180.6 775.0,181.5 C784.4,182.4 781.7,180.4 788.0,184.0 C794.3,187.6 793.5,186.2 798.8,195.0 C804.1,203.8 802.0,203.4 808.0,217.0 C814.0,230.6 814.3,230.8 821.2,246.0 C828.1,261.2 827.2,259.5 834.0,274.0 C840.8,288.5 839.9,285.9 846.8,300.5 C853.7,315.1 853.0,313.5 860.0,328.8 C867.0,344.1 866.0,342.3 873.0,358.0 C880.0,373.7 880.9,374.6 886.2,387.7 C891.5,400.8 888.8,397.6 893.0,407.0 C897.2,416.4 896.7,415.6 902.0,422.8 C907.3,430.0 907.1,429.7 913.0,434.0 C918.9,438.3 917.9,437.4 924.0,439.0 C930.1,440.6 928.3,436.9 935.9,440.0 C943.5,443.1 944.6,447.6 952.6,450.8 C960.6,454.0 958.8,452.3 966.0,452.0 C973.2,451.7 972.8,448.8 979.7,449.6 C986.6,450.4 985.6,451.6 992.0,455.0 C998.4,458.4 998.5,458.6 1003.8,462.2 C1009.1,465.8 1007.1,465.9 1012.0,468.5 C1016.9,471.1 1016.4,471.1 1022.0,471.8 C1027.6,472.5 1028.2,472.8 1033.0,471.0 C1037.8,469.2 1036.6,469.6 1040.0,465.0 C1043.4,460.4 1042.6,461.6 1045.8,453.6 C1049.0,445.6 1048.9,444.3 1052.0,435.0 C1055.1,425.7 1054.6,428.2 1057.6,418.7 C1060.6,409.2 1059.6,409.6 1063.2,399.5 C1066.8,389.4 1067.0,390.2 1071.0,381.0 C1075.0,371.8 1074.9,373.6 1078.3,365.0 C1081.7,356.4 1079.5,359.4 1083.8,348.7 C1088.1,338.0 1090.0,335.8 1094.3,324.9 C1098.6,314.0 1097.5,316.8 1100.0,308.0 C1102.5,299.2 1102.4,300.8 1103.5,292.0 C1104.6,283.2 1105.2,285.0 1104.2,275.0 C1103.2,265.0 1102.0,264.7 1099.8,254.6 C1097.6,244.5 1099.7,250.0 1096.0,237.0 C1092.3,224.0 1090.8,219.5 1086.0,206.0 C1081.2,192.5 1083.0,201.0 1078.0,186.3 C1073.0,171.6 1071.2,165.0 1067.2,150.8 C1063.2,136.6 1065.8,143.7 1063.0,133.0 C1060.2,122.3 1062.0,122.5 1056.7,110.5 C1051.4,98.5 1050.1,98.0 1043.0,88.0 C1035.9,78.0 1036.1,79.9 1030.0,73.0 C1023.9,66.1 1025.3,70.1 1020.0,62.0 C1014.7,53.9 1016.0,54.6 1010.0,42.7 C1004.0,30.8 1003.4,30.5 997.5,17.5 C991.6,4.5 990.5,0.3 988.0,-6.0" stroke="#e51636" stroke-width="6"/></g>
<g fill="#9d9f9c" stroke="#fff" stroke-width="3"><circle cx="18.3" cy="276.7" r="12.8"/><circle cx="48.3" cy="330.0" r="12.8"/><circle cx="100.0" cy="328.3" r="12.8"/><circle cx="157.3" cy="303.3" r="12.8"/></g>
<g fill="#f68712" stroke="#fff" stroke-width="3"><circle cx="248.3" cy="437.3" r="12.8"/><circle cx="75.9" cy="536.6" r="12.8"/><circle cx="388.6" cy="521.0" r="12.8"/><circle cx="587.6" cy="541.5" r="12.8"/><circle cx="620.3" cy="535.0" r="12.8"/><circle cx="652.2" cy="517.4" r="12.8"/><circle cx="709.5" cy="488.8" r="12.8"/><circle cx="1635.3" cy="173.3" r="12.8"/><circle cx="1552.0" cy="247.7" r="12.8"/><circle cx="1446.0" cy="349.0" r="12.8"/><circle cx="1355.0" cy="397.7" r="12.8"/><circle cx="1303.4" cy="450.7" r="12.8"/></g>
<g fill="#1574c4" stroke="#fff" stroke-width="3"><circle cx="763.5" cy="459.7" r="12.8"/><circle cx="855.8" cy="437.3" r="12.8"/><circle cx="800.6" cy="527.0" r="12.8"/><circle cx="901.5" cy="436.5" r="12.8"/><circle cx="927.8" cy="431.9" r="12.8"/><circle cx="953.0" cy="476.0" r="12.8"/><circle cx="953.0" cy="508.1" r="12.8"/><circle cx="840.3" cy="613.6" r="12.8"/><circle cx="816.0" cy="649.2" r="12.8"/><circle cx="855.0" cy="678.3" r="12.8"/><circle cx="884.8" cy="705.3" r="12.8"/><circle cx="873.9" cy="818.0" r="12.8"/><circle cx="1006.8" cy="525.2" r="12.8"/><circle cx="1054.0" cy="525.2" r="12.8"/><circle cx="1096.7" cy="530.0" r="12.8"/><circle cx="1138.6" cy="548.8" r="12.8"/><circle cx="1174.6" cy="520.0" r="12.8"/><circle cx="1346.0" cy="494.8" r="12.8"/><circle cx="1454.4" cy="498.4" r="12.8"/><circle cx="1541.2" cy="515.4" r="12.8"/><circle cx="1652.0" cy="490.0" r="12.8"/><circle cx="1754.3" cy="436.7" r="12.8"/></g>
<g fill="#0fab4b" stroke="#fff" stroke-width="3"><circle cx="1389.3" cy="1.7" r="12.8"/><circle cx="1267.7" cy="74.0" r="12.8"/><circle cx="1207.8" cy="132.3" r="12.8"/><circle cx="968.1" cy="238.2" r="12.8"/><circle cx="932.9" cy="279.9" r="12.8"/><circle cx="949.7" cy="347.7" r="12.8"/><circle cx="979.4" cy="368.5" r="12.8"/><circle cx="979.4" cy="409.0" r="12.8"/><circle cx="980.3" cy="477.0" r="12.8"/><circle cx="980.4" cy="525.7" r="12.8"/><circle cx="999.8" cy="574.6" r="12.8"/><circle cx="1053.7" cy="572.6" r="12.8"/><circle cx="1095.5" cy="654.3" r="12.8"/><circle cx="1128.0" cy="748.0" r="12.8"/><circle cx="1183.5" cy="772.4" r="12.8"/><circle cx="1266.0" cy="715.5" r="12.8"/><circle cx="1373.3" cy="756.0" r="12.8"/></g>
<circle cx="966.0" cy="449.0" r="12.8" fill="#9d9f9c" stroke="#fff" stroke-width="3"/>
<circle cx="987.0" cy="453.0" r="12.8" fill="#9d9f9c" stroke="#fff" stroke-width="3"/>
<g id="reds">
<circle cx="690.0" cy="57.0" r="13.9" fill="#e51636" stroke="#fff" stroke-width="3.75"/>
<circle cx="675.7" cy="12.8" r="15.5" fill="#000" fill-opacity="0.30" filter="url(#bl)"/>
<circle cx="675.7" cy="10.8" r="13.9" fill="#e51636" stroke="#fff" stroke-width="3.75"/>
<circle cx="727.0" cy="171.5" r="13.9" fill="#e51636" stroke="#fff" stroke-width="3.75"/>
<circle cx="752.7" cy="178.3" r="13.9" fill="#e51636" stroke="#fff" stroke-width="3.75"/>
<circle cx="798.8" cy="197.0" r="15.5" fill="#000" fill-opacity="0.30" filter="url(#bl)"/>
<circle cx="798.8" cy="195.0" r="13.9" fill="#e51636" stroke="#fff" stroke-width="3.75"/>
<circle cx="821.2" cy="248.5" r="15.5" fill="#000" fill-opacity="0.35" filter="url(#bl)"/>
<circle cx="821.2" cy="246.0" r="13.9" fill="#e51636" stroke="#fff" stroke-width="3.75"/>
<circle cx="861.0" cy="330.8" r="15.5" fill="#000" fill-opacity="0.30" filter="url(#bl)"/>
<circle cx="860.0" cy="328.8" r="13.9" fill="#e51636" stroke="#fff" stroke-width="3.75"/>
<circle cx="844.8" cy="303.0" r="15.5" fill="#000" fill-opacity="0.70" filter="url(#bl)"/>
<circle cx="846.8" cy="300.5" r="13.9" fill="#e51636" stroke="#fff" stroke-width="3.75"/>
<circle cx="888.7" cy="390.2" r="15.5" fill="#000" fill-opacity="0.65" filter="url(#bl)"/>
<circle cx="886.2" cy="387.7" r="13.9" fill="#e51636" stroke="#fff" stroke-width="3.75"/>
<circle cx="935.9" cy="440.0" r="13.9" fill="#e51636" stroke="#fff" stroke-width="3.75"/>
<circle cx="904.5" cy="425.3" r="15.5" fill="#000" fill-opacity="0.65" filter="url(#bl)"/>
<circle cx="902.0" cy="422.8" r="13.9" fill="#e51636" stroke="#fff" stroke-width="3.75"/>
<circle cx="952.6" cy="452.8" r="15.5" fill="#000" fill-opacity="0.30" filter="url(#bl)"/>
<circle cx="952.6" cy="450.8" r="13.9" fill="#e51636" stroke="#fff" stroke-width="3.75"/>
<circle cx="979.7" cy="451.6" r="15.5" fill="#000" fill-opacity="0.30" filter="url(#bl)"/>
<circle cx="979.7" cy="449.6" r="13.9" fill="#e51636" stroke="#fff" stroke-width="3.75"/>
<circle cx="1005.3" cy="465.2" r="15.5" fill="#000" fill-opacity="0.60" filter="url(#bl)"/>
<circle cx="1003.8" cy="462.2" r="13.9" fill="#e51636" stroke="#fff" stroke-width="3.75"/>
<circle cx="1046.8" cy="455.6" r="15.5" fill="#000" fill-opacity="0.30" filter="url(#bl)"/>
<circle cx="1045.8" cy="453.6" r="13.9" fill="#e51636" stroke="#fff" stroke-width="3.75"/>
<circle cx="1057.6" cy="418.7" r="13.9" fill="#e51636" stroke="#fff" stroke-width="3.75"/>
<circle cx="1065.2" cy="400.5" r="15.5" fill="#000" fill-opacity="0.35" filter="url(#bl)"/>
<circle cx="1063.2" cy="399.5" r="13.9" fill="#e51636" stroke="#fff" stroke-width="3.75"/>
<circle cx="1083.8" cy="350.7" r="15.5" fill="#000" fill-opacity="0.25" filter="url(#bl)"/>
<circle cx="1083.8" cy="348.7" r="13.9" fill="#e51636" stroke="#fff" stroke-width="3.75"/>
<circle cx="1092.8" cy="327.4" r="15.5" fill="#000" fill-opacity="0.50" filter="url(#bl)"/>
<circle cx="1094.3" cy="324.9" r="13.9" fill="#e51636" stroke="#fff" stroke-width="3.75"/>
<circle cx="1099.8" cy="257.1" r="15.5" fill="#000" fill-opacity="0.35" filter="url(#bl)"/>
<circle cx="1099.8" cy="254.6" r="13.9" fill="#e51636" stroke="#fff" stroke-width="3.75"/>
<circle cx="1078.0" cy="186.3" r="13.9" fill="#e51636" stroke="#fff" stroke-width="3.75"/>
<circle cx="1064.7" cy="153.8" r="15.5" fill="#000" fill-opacity="0.90" filter="url(#bl)"/>
<circle cx="1067.2" cy="150.8" r="13.9" fill="#e51636" stroke="#fff" stroke-width="3.75"/>
<circle cx="997.5" cy="20.0" r="15.5" fill="#000" fill-opacity="0.35" filter="url(#bl)"/>
<circle cx="997.5" cy="17.5" r="13.9" fill="#e51636" stroke="#fff" stroke-width="3.75"/>
</g>
</svg>
<div class="popup"><div style="top:22.5px;font-weight:bold">Red Line to Shady Grv</div><div style="top:52.5px">Next stop: Tenleytown-AU</div><div style="top:82.5px">Arriving in: 19</div><div style="top:112.5px">Cars: 6</div></div><div class="tip"></div>
<div class="ctrl">
<div class="b" style="top:0"><svg viewBox="0 0 29 29"><path fill="#333" d="M14.5 8.5c-.75 0-1.5.75-1.5 1.5v3h-3c-.75 0-1.5.75-1.5 1.5S9.25 16 10 16h3v3c0 .75.75 1.5 1.5 1.5S16 19.750 16 19v-3h3c.75 0 1.5-.75 1.5-1.5S19.750 13 19 13h-3v-3c0-.75-.75-1.500-1.500-1.500z"/></svg></div>
<div class="b" style="top:43.5px"><svg viewBox="0 0 29 29"><path fill="#333" d="M10 13c-.75 0-1.5.75-1.5 1.5S9.25 16 10 16h9c.75 0 1.5-.75 1.5-1.5S19.750 13 19 13h-9z"/></svg></div>
<div class="b" style="top:87px"><svg viewBox="0 0 29 29"><path fill="#333" d="M10.5 14l4-8 4 8h-8z"/><path fill="#ccc" d="M10.5 16l4 8 4-8h-8z"/></svg></div>
</div>
<div class="attr"><span class="t">MapLibre | © CARTO, © OpenStreetMap <b>contributors</b></span><div class="ib"><svg viewBox="0 0 20 20"><path fill-rule="evenodd" d="M4 10a6 6 0 1 0 12 0 6 6 0 1 0-12 0m5-3a1 1 0 1 0 2 0 1 1 0 1 0-2 0m0 3a1 1 0 1 1 2 0v3a1 1 0 1 1-2 0"/></svg></div></div>

</body></html>
